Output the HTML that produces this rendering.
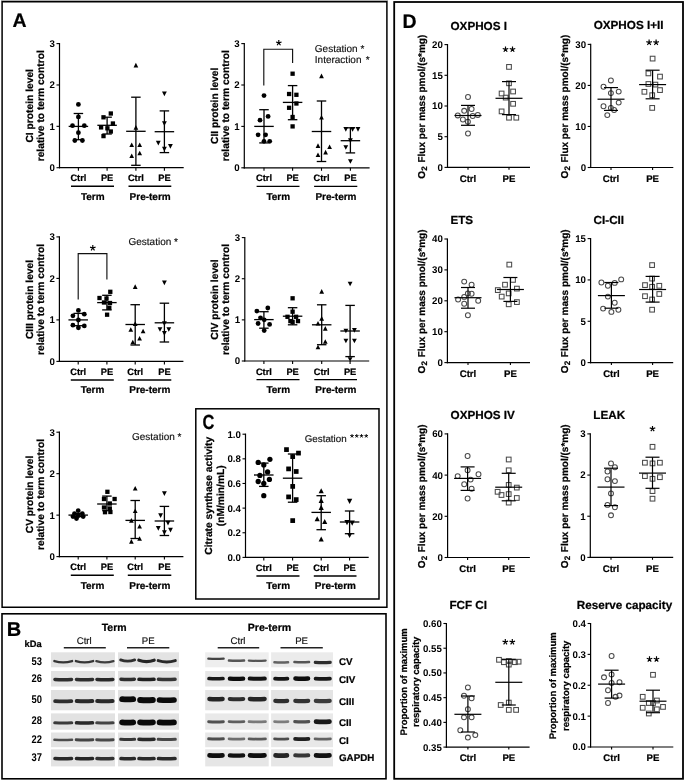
<!DOCTYPE html><html><head><meta charset="utf-8"><style>html,body{margin:0;padding:0;background:#fff;overflow:hidden;}svg{display:block;will-change:transform;text-rendering:geometricPrecision;}</style></head><body>
<svg width="685" height="781" viewBox="0 0 685 781">
<defs><filter id="bl" x="-20%" y="-100%" width="140%" height="300%" color-interpolation-filters="sRGB"><feGaussianBlur stdDeviation="0.75"/></filter><filter id="bl2" x="-20%" y="-100%" width="140%" height="300%"><feGaussianBlur stdDeviation="0.75"/></filter></defs>
<rect x="0" y="0" width="685" height="781" fill="#fff"/>
<rect x="1" y="0" width="387" height="0.9" fill="#a8a8a8"/>
<rect x="2.1" y="1.75" width="384.8" height="605.5" fill="none" stroke="#000" stroke-width="1.5"/>
<rect x="195.8" y="408.8" width="183.2" height="190.2" fill="none" stroke="#000" stroke-width="1.5"/>
<rect x="2" y="613.8" width="384" height="165" fill="none" stroke="#000" stroke-width="1.6"/>
<rect x="394.2" y="2" width="288.8" height="776.8" fill="none" stroke="#000" stroke-width="1.8"/>
<text x="12.4" y="26.9" font-size="19.5" font-family="Liberation Sans" font-weight="bold" stroke="#000" stroke-width="0.22" text-anchor="start" fill="#000" >A</text>
<text x="6.8" y="635.7" font-size="20" font-family="Liberation Sans" font-weight="bold" stroke="#000" stroke-width="0.22" text-anchor="start" fill="#000" >B</text>
<text transform="translate(202.6,429.1) scale(0.8,1)" font-size="20.5" font-family="Liberation Sans" font-weight="bold" stroke="#000" stroke-width="0.22">C</text>
<text x="402.4" y="27.9" font-size="19.5" font-family="Liberation Sans" font-weight="bold" stroke="#000" stroke-width="0.22" text-anchor="start" fill="#000" >D</text>
<line x1="59.5" y1="43" x2="59.5" y2="168.3" stroke="#000" stroke-width="1.2"/>
<line x1="58.9" y1="167.7" x2="183.7" y2="167.7" stroke="#000" stroke-width="1.2"/>
<line x1="56.5" y1="167.7" x2="59.5" y2="167.7" stroke="#000" stroke-width="1.1"/>
<text transform="translate(54.9,171.1) scale(1.0,1)" font-size="9.7" font-family="Liberation Sans" font-weight="bold" text-anchor="end">0</text>
<line x1="56.5" y1="126.33" x2="59.5" y2="126.33" stroke="#000" stroke-width="1.1"/>
<text transform="translate(54.9,129.73) scale(1.0,1)" font-size="9.7" font-family="Liberation Sans" font-weight="bold" text-anchor="end">1</text>
<line x1="56.5" y1="84.97" x2="59.5" y2="84.97" stroke="#000" stroke-width="1.1"/>
<text transform="translate(54.9,88.37) scale(1.0,1)" font-size="9.7" font-family="Liberation Sans" font-weight="bold" text-anchor="end">2</text>
<line x1="56.5" y1="43.6" x2="59.5" y2="43.6" stroke="#000" stroke-width="1.1"/>
<text transform="translate(54.9,47) scale(1.0,1)" font-size="9.7" font-family="Liberation Sans" font-weight="bold" text-anchor="end">3</text>
<line x1="78.4" y1="167.7" x2="78.4" y2="170.7" stroke="#000" stroke-width="1.1"/>
<line x1="107.1" y1="167.7" x2="107.1" y2="170.7" stroke="#000" stroke-width="1.1"/>
<line x1="135.9" y1="167.7" x2="135.9" y2="170.7" stroke="#000" stroke-width="1.1"/>
<line x1="164.4" y1="167.7" x2="164.4" y2="170.7" stroke="#000" stroke-width="1.1"/>
<circle cx="78.4" cy="104.4" r="2.4" fill="#000"/>
<circle cx="78.4" cy="116.9" r="2.4" fill="#000"/>
<circle cx="72.5" cy="125.7" r="2.4" fill="#000"/>
<circle cx="84.3" cy="125.7" r="2.4" fill="#000"/>
<circle cx="78.4" cy="132.7" r="2.4" fill="#000"/>
<circle cx="74.8" cy="140.5" r="2.4" fill="#000"/>
<circle cx="82.4" cy="140.5" r="2.4" fill="#000"/>
<line x1="78.4" y1="113.5" x2="78.4" y2="139.7" stroke="#000" stroke-width="1.3"/>
<line x1="68.65" y1="126.4" x2="88.15" y2="126.4" stroke="#000" stroke-width="1.3"/>
<line x1="73.65" y1="113.5" x2="83.15" y2="113.5" stroke="#000" stroke-width="1.3"/>
<line x1="73.65" y1="139.7" x2="83.15" y2="139.7" stroke="#000" stroke-width="1.3"/>
<rect x="108.65" y="111.35" width="4.3" height="4.3" fill="#000"/>
<rect x="101.35" y="115.15" width="4.3" height="4.3" fill="#000"/>
<rect x="110.75" y="121.35" width="4.3" height="4.3" fill="#000"/>
<rect x="98.95" y="125.25" width="4.3" height="4.3" fill="#000"/>
<rect x="105.25" y="126.15" width="4.3" height="4.3" fill="#000"/>
<rect x="108.65" y="129.35" width="4.3" height="4.3" fill="#000"/>
<rect x="101.35" y="133.95" width="4.3" height="4.3" fill="#000"/>
<line x1="107.1" y1="117.2" x2="107.1" y2="134" stroke="#000" stroke-width="1.3"/>
<line x1="97.35" y1="125.3" x2="116.85" y2="125.3" stroke="#000" stroke-width="1.3"/>
<line x1="102.35" y1="117.2" x2="111.85" y2="117.2" stroke="#000" stroke-width="1.3"/>
<line x1="102.35" y1="134" x2="111.85" y2="134" stroke="#000" stroke-width="1.3"/>
<path d="M135.9 62.8L138.25 67.4L133.55 67.4Z" fill="#000"/>
<path d="M135.9 125.1L138.25 129.7L133.55 129.7Z" fill="#000"/>
<path d="M131.7 142.5L134.05 147.1L129.35 147.1Z" fill="#000"/>
<path d="M139.7 142.5L142.05 147.1L137.35 147.1Z" fill="#000"/>
<path d="M131.7 153.5L134.05 158.1L129.35 158.1Z" fill="#000"/>
<path d="M139.7 150.7L142.05 155.3L137.35 155.3Z" fill="#000"/>
<line x1="135.9" y1="97.2" x2="135.9" y2="165.3" stroke="#000" stroke-width="1.3"/>
<line x1="126.15" y1="131.3" x2="145.65" y2="131.3" stroke="#000" stroke-width="1.3"/>
<line x1="131.15" y1="97.2" x2="140.65" y2="97.2" stroke="#000" stroke-width="1.3"/>
<line x1="131.15" y1="165.3" x2="140.65" y2="165.3" stroke="#000" stroke-width="1.3"/>
<path d="M162 91.45L166.8 91.45L164.4 96.15Z" fill="#000"/>
<path d="M162 121.25L166.8 121.25L164.4 125.95Z" fill="#000"/>
<path d="M155.9 140.75L160.7 140.75L158.3 145.45Z" fill="#000"/>
<path d="M168 143.95L172.8 143.95L170.4 148.65Z" fill="#000"/>
<path d="M162 146.85L166.8 146.85L164.4 151.55Z" fill="#000"/>
<line x1="164.4" y1="110.9" x2="164.4" y2="152.6" stroke="#000" stroke-width="1.3"/>
<line x1="154.65" y1="131.7" x2="174.15" y2="131.7" stroke="#000" stroke-width="1.3"/>
<line x1="159.65" y1="110.9" x2="169.15" y2="110.9" stroke="#000" stroke-width="1.3"/>
<line x1="159.65" y1="152.6" x2="169.15" y2="152.6" stroke="#000" stroke-width="1.3"/>
<text x="78.4" y="181.3" font-size="9.3" font-family="Liberation Sans" font-weight="bold" stroke="#000" stroke-width="0.22" text-anchor="middle" fill="#000" >Ctrl</text>
<text x="107.1" y="181.3" font-size="9.3" font-family="Liberation Sans" font-weight="bold" stroke="#000" stroke-width="0.22" text-anchor="middle" fill="#000" >PE</text>
<text x="135.9" y="181.3" font-size="9.3" font-family="Liberation Sans" font-weight="bold" stroke="#000" stroke-width="0.22" text-anchor="middle" fill="#000" >Ctrl</text>
<text x="164.4" y="181.3" font-size="9.3" font-family="Liberation Sans" font-weight="bold" stroke="#000" stroke-width="0.22" text-anchor="middle" fill="#000" >PE</text>
<line x1="71" y1="186.3" x2="114" y2="186.3" stroke="#000" stroke-width="1.4"/>
<line x1="128.5" y1="186.3" x2="171.3" y2="186.3" stroke="#000" stroke-width="1.4"/>
<text x="92.75" y="199.7" font-size="10" font-family="Liberation Sans" font-weight="bold" stroke="#000" stroke-width="0.22" text-anchor="middle" fill="#000" >Term</text>
<text x="150.15" y="199.7" font-size="10" font-family="Liberation Sans" font-weight="bold" stroke="#000" stroke-width="0.22" text-anchor="middle" fill="#000" >Pre-term</text>
<text transform="translate(32.9,105.8) rotate(-90)" font-size="10.25" font-family="Liberation Sans" font-weight="bold" stroke="#000" stroke-width="0.22" text-anchor="middle">CI protein level</text>
<text transform="translate(43.5,105.8) rotate(-90)" font-size="10.25" font-family="Liberation Sans" font-weight="bold" stroke="#000" stroke-width="0.22" text-anchor="middle">relative to term control</text>
<line x1="244.3" y1="43" x2="244.3" y2="168.4" stroke="#000" stroke-width="1.2"/>
<line x1="243.7" y1="167.8" x2="369.6" y2="167.8" stroke="#000" stroke-width="1.2"/>
<line x1="241.3" y1="167.8" x2="244.3" y2="167.8" stroke="#000" stroke-width="1.1"/>
<text transform="translate(239.7,171.2) scale(1.0,1)" font-size="9.7" font-family="Liberation Sans" font-weight="bold" text-anchor="end">0</text>
<line x1="241.3" y1="126.4" x2="244.3" y2="126.4" stroke="#000" stroke-width="1.1"/>
<text transform="translate(239.7,129.8) scale(1.0,1)" font-size="9.7" font-family="Liberation Sans" font-weight="bold" text-anchor="end">1</text>
<line x1="241.3" y1="85" x2="244.3" y2="85" stroke="#000" stroke-width="1.1"/>
<text transform="translate(239.7,88.4) scale(1.0,1)" font-size="9.7" font-family="Liberation Sans" font-weight="bold" text-anchor="end">2</text>
<line x1="241.3" y1="43.6" x2="244.3" y2="43.6" stroke="#000" stroke-width="1.1"/>
<text transform="translate(239.7,47) scale(1.0,1)" font-size="9.7" font-family="Liberation Sans" font-weight="bold" text-anchor="end">3</text>
<line x1="264" y1="167.8" x2="264" y2="170.8" stroke="#000" stroke-width="1.1"/>
<line x1="292.6" y1="167.8" x2="292.6" y2="170.8" stroke="#000" stroke-width="1.1"/>
<line x1="321.5" y1="167.8" x2="321.5" y2="170.8" stroke="#000" stroke-width="1.1"/>
<line x1="350.4" y1="167.8" x2="350.4" y2="170.8" stroke="#000" stroke-width="1.1"/>
<circle cx="264" cy="95.6" r="2.4" fill="#000"/>
<circle cx="268.1" cy="116.4" r="2.4" fill="#000"/>
<circle cx="260" cy="120.2" r="2.4" fill="#000"/>
<circle cx="258.1" cy="134.8" r="2.4" fill="#000"/>
<circle cx="265.6" cy="134.8" r="2.4" fill="#000"/>
<circle cx="264" cy="141.3" r="2.4" fill="#000"/>
<circle cx="269.7" cy="141.3" r="2.4" fill="#000"/>
<line x1="264" y1="109.7" x2="264" y2="142.9" stroke="#000" stroke-width="1.3"/>
<line x1="254.25" y1="126.4" x2="273.75" y2="126.4" stroke="#000" stroke-width="1.3"/>
<line x1="259.25" y1="109.7" x2="268.75" y2="109.7" stroke="#000" stroke-width="1.3"/>
<line x1="259.25" y1="142.9" x2="268.75" y2="142.9" stroke="#000" stroke-width="1.3"/>
<rect x="290.45" y="71.55" width="4.3" height="4.3" fill="#000"/>
<rect x="286.95" y="91.85" width="4.3" height="4.3" fill="#000"/>
<rect x="294.25" y="92.65" width="4.3" height="4.3" fill="#000"/>
<rect x="286.95" y="105.65" width="4.3" height="4.3" fill="#000"/>
<rect x="294.25" y="101.35" width="4.3" height="4.3" fill="#000"/>
<rect x="290.45" y="114.85" width="4.3" height="4.3" fill="#000"/>
<rect x="290.45" y="124.25" width="4.3" height="4.3" fill="#000"/>
<line x1="292.6" y1="85.6" x2="292.6" y2="119.7" stroke="#000" stroke-width="1.3"/>
<line x1="282.85" y1="102.4" x2="302.35" y2="102.4" stroke="#000" stroke-width="1.3"/>
<line x1="287.85" y1="85.6" x2="297.35" y2="85.6" stroke="#000" stroke-width="1.3"/>
<line x1="287.85" y1="119.7" x2="297.35" y2="119.7" stroke="#000" stroke-width="1.3"/>
<path d="M321.5 73.6L323.85 78.2L319.15 78.2Z" fill="#000"/>
<path d="M321.5 114.9L323.85 119.5L319.15 119.5Z" fill="#000"/>
<path d="M318 143.3L320.35 147.9L315.65 147.9Z" fill="#000"/>
<path d="M325.6 149.8L327.95 154.4L323.25 154.4Z" fill="#000"/>
<path d="M329.6 144.4L331.95 149L327.25 149Z" fill="#000"/>
<path d="M318 152.5L320.35 157.1L315.65 157.1Z" fill="#000"/>
<line x1="321.5" y1="101" x2="321.5" y2="161.5" stroke="#000" stroke-width="1.3"/>
<line x1="311.75" y1="131.5" x2="331.25" y2="131.5" stroke="#000" stroke-width="1.3"/>
<line x1="316.75" y1="101" x2="326.25" y2="101" stroke="#000" stroke-width="1.3"/>
<line x1="316.75" y1="161.5" x2="326.25" y2="161.5" stroke="#000" stroke-width="1.3"/>
<path d="M343.4 127.05L348.2 127.05L345.8 131.75Z" fill="#000"/>
<path d="M350.2 127.05L355 127.05L352.6 131.75Z" fill="#000"/>
<path d="M355.6 127.05L360.4 127.05L358 131.75Z" fill="#000"/>
<path d="M348 138.35L352.8 138.35L350.4 143.05Z" fill="#000"/>
<path d="M343.4 145.15L348.2 145.15L345.8 149.85Z" fill="#000"/>
<path d="M348 159.15L352.8 159.15L350.4 163.85Z" fill="#000"/>
<line x1="350.4" y1="127.8" x2="350.4" y2="152.9" stroke="#000" stroke-width="1.3"/>
<line x1="340.65" y1="140.7" x2="360.15" y2="140.7" stroke="#000" stroke-width="1.3"/>
<line x1="345.65" y1="127.8" x2="355.15" y2="127.8" stroke="#000" stroke-width="1.3"/>
<line x1="345.65" y1="152.9" x2="355.15" y2="152.9" stroke="#000" stroke-width="1.3"/>
<text x="264" y="181.4" font-size="9.3" font-family="Liberation Sans" font-weight="bold" stroke="#000" stroke-width="0.22" text-anchor="middle" fill="#000" >Ctrl</text>
<text x="292.6" y="181.4" font-size="9.3" font-family="Liberation Sans" font-weight="bold" stroke="#000" stroke-width="0.22" text-anchor="middle" fill="#000" >PE</text>
<text x="321.5" y="181.4" font-size="9.3" font-family="Liberation Sans" font-weight="bold" stroke="#000" stroke-width="0.22" text-anchor="middle" fill="#000" >Ctrl</text>
<text x="350.4" y="181.4" font-size="9.3" font-family="Liberation Sans" font-weight="bold" stroke="#000" stroke-width="0.22" text-anchor="middle" fill="#000" >PE</text>
<line x1="256.6" y1="186.4" x2="299.5" y2="186.4" stroke="#000" stroke-width="1.4"/>
<line x1="314.1" y1="186.4" x2="357.3" y2="186.4" stroke="#000" stroke-width="1.4"/>
<text x="278.3" y="199.8" font-size="10" font-family="Liberation Sans" font-weight="bold" stroke="#000" stroke-width="0.22" text-anchor="middle" fill="#000" >Term</text>
<text x="335.95" y="199.8" font-size="10" font-family="Liberation Sans" font-weight="bold" stroke="#000" stroke-width="0.22" text-anchor="middle" fill="#000" >Pre-term</text>
<text transform="translate(217.9,105.8) rotate(-90)" font-size="10.25" font-family="Liberation Sans" font-weight="bold" stroke="#000" stroke-width="0.22" text-anchor="middle">CII protein level</text>
<text transform="translate(228.5,105.8) rotate(-90)" font-size="10.25" font-family="Liberation Sans" font-weight="bold" stroke="#000" stroke-width="0.22" text-anchor="middle">relative to term control</text>
<path d="M263.8 85.4V49.2H292.6V62.9" fill="none" stroke="#111" stroke-width="1.15"/>
<path d="M278.8 42.9L278.8 40M278.8 42.9L281.56 42M278.8 42.9L280.5 45.25M278.8 42.9L277.1 45.25M278.8 42.9L276.04 42" stroke="#000" stroke-width="1.15" fill="none"/>
<text x="314.8" y="51.6" font-size="10" font-family="Liberation Sans" text-anchor="start" fill="#111" stroke="#111" stroke-width="0.15">Gestation *</text>
<text x="314.8" y="63.4" font-size="10" font-family="Liberation Sans" text-anchor="start" fill="#111" word-spacing="1.5" stroke="#111" stroke-width="0.15">Interaction *</text>
<line x1="59.4" y1="236.3" x2="59.4" y2="362" stroke="#000" stroke-width="1.2"/>
<line x1="58.8" y1="361.4" x2="183.4" y2="361.4" stroke="#000" stroke-width="1.2"/>
<line x1="56.4" y1="361.4" x2="59.4" y2="361.4" stroke="#000" stroke-width="1.1"/>
<text transform="translate(54.8,364.8) scale(1.0,1)" font-size="9.7" font-family="Liberation Sans" font-weight="bold" text-anchor="end">0</text>
<line x1="56.4" y1="319.9" x2="59.4" y2="319.9" stroke="#000" stroke-width="1.1"/>
<text transform="translate(54.8,323.3) scale(1.0,1)" font-size="9.7" font-family="Liberation Sans" font-weight="bold" text-anchor="end">1</text>
<line x1="56.4" y1="278.4" x2="59.4" y2="278.4" stroke="#000" stroke-width="1.1"/>
<text transform="translate(54.8,281.8) scale(1.0,1)" font-size="9.7" font-family="Liberation Sans" font-weight="bold" text-anchor="end">2</text>
<line x1="56.4" y1="236.9" x2="59.4" y2="236.9" stroke="#000" stroke-width="1.1"/>
<text transform="translate(54.8,240.3) scale(1.0,1)" font-size="9.7" font-family="Liberation Sans" font-weight="bold" text-anchor="end">3</text>
<line x1="78.2" y1="361.4" x2="78.2" y2="364.4" stroke="#000" stroke-width="1.1"/>
<line x1="106.9" y1="361.4" x2="106.9" y2="364.4" stroke="#000" stroke-width="1.1"/>
<line x1="135.2" y1="361.4" x2="135.2" y2="364.4" stroke="#000" stroke-width="1.1"/>
<line x1="164.4" y1="361.4" x2="164.4" y2="364.4" stroke="#000" stroke-width="1.1"/>
<circle cx="78.4" cy="310.4" r="2.4" fill="#000"/>
<circle cx="72.9" cy="315.8" r="2.4" fill="#000"/>
<circle cx="84.3" cy="314.2" r="2.4" fill="#000"/>
<circle cx="78.4" cy="320" r="2.4" fill="#000"/>
<circle cx="72.9" cy="325.2" r="2.4" fill="#000"/>
<circle cx="84.3" cy="325.9" r="2.4" fill="#000"/>
<circle cx="78.4" cy="327.8" r="2.4" fill="#000"/>
<line x1="78.2" y1="313.4" x2="78.2" y2="325.7" stroke="#000" stroke-width="1.3"/>
<line x1="68.45" y1="319.9" x2="87.95" y2="319.9" stroke="#000" stroke-width="1.3"/>
<line x1="73.45" y1="313.4" x2="82.95" y2="313.4" stroke="#000" stroke-width="1.3"/>
<line x1="73.45" y1="325.7" x2="82.95" y2="325.7" stroke="#000" stroke-width="1.3"/>
<rect x="108.15" y="289.65" width="4.3" height="4.3" fill="#000"/>
<rect x="97.35" y="295.85" width="4.3" height="4.3" fill="#000"/>
<rect x="104.35" y="296.35" width="4.3" height="4.3" fill="#000"/>
<rect x="101.85" y="300.35" width="4.3" height="4.3" fill="#000"/>
<rect x="107.85" y="300.85" width="4.3" height="4.3" fill="#000"/>
<rect x="107.15" y="305.65" width="4.3" height="4.3" fill="#000"/>
<rect x="104.95" y="312.55" width="4.3" height="4.3" fill="#000"/>
<line x1="106.9" y1="295.3" x2="106.9" y2="309.9" stroke="#000" stroke-width="1.3"/>
<line x1="97.15" y1="302.6" x2="116.65" y2="302.6" stroke="#000" stroke-width="1.3"/>
<line x1="102.15" y1="295.3" x2="111.65" y2="295.3" stroke="#000" stroke-width="1.3"/>
<line x1="102.15" y1="309.9" x2="111.65" y2="309.9" stroke="#000" stroke-width="1.3"/>
<path d="M135.2 284.3L137.55 288.9L132.85 288.9Z" fill="#000"/>
<path d="M135.2 321.3L137.55 325.9L132.85 325.9Z" fill="#000"/>
<path d="M130.8 327.2L133.15 331.8L128.45 331.8Z" fill="#000"/>
<path d="M143.1 328.7L145.45 333.3L140.75 333.3Z" fill="#000"/>
<path d="M139.6 335.9L141.95 340.5L137.25 340.5Z" fill="#000"/>
<path d="M132.8 339.7L135.15 344.3L130.45 344.3Z" fill="#000"/>
<line x1="135.2" y1="304.7" x2="135.2" y2="345" stroke="#000" stroke-width="1.3"/>
<line x1="125.45" y1="324.5" x2="144.95" y2="324.5" stroke="#000" stroke-width="1.3"/>
<line x1="130.45" y1="304.7" x2="139.95" y2="304.7" stroke="#000" stroke-width="1.3"/>
<line x1="130.45" y1="345" x2="139.95" y2="345" stroke="#000" stroke-width="1.3"/>
<path d="M162 280.45L166.8 280.45L164.4 285.15Z" fill="#000"/>
<path d="M162 321.25L166.8 321.25L164.4 325.95Z" fill="#000"/>
<path d="M157.6 327.15L162.4 327.15L160 331.85Z" fill="#000"/>
<path d="M166.4 327.15L171.2 327.15L168.8 331.85Z" fill="#000"/>
<path d="M162 330.95L166.8 330.95L164.4 335.65Z" fill="#000"/>
<line x1="164.4" y1="303.2" x2="164.4" y2="342" stroke="#000" stroke-width="1.3"/>
<line x1="154.65" y1="322.8" x2="174.15" y2="322.8" stroke="#000" stroke-width="1.3"/>
<line x1="159.65" y1="303.2" x2="169.15" y2="303.2" stroke="#000" stroke-width="1.3"/>
<line x1="159.65" y1="342" x2="169.15" y2="342" stroke="#000" stroke-width="1.3"/>
<text x="78.2" y="375" font-size="9.3" font-family="Liberation Sans" font-weight="bold" stroke="#000" stroke-width="0.22" text-anchor="middle" fill="#000" >Ctrl</text>
<text x="106.9" y="375" font-size="9.3" font-family="Liberation Sans" font-weight="bold" stroke="#000" stroke-width="0.22" text-anchor="middle" fill="#000" >PE</text>
<text x="135.2" y="375" font-size="9.3" font-family="Liberation Sans" font-weight="bold" stroke="#000" stroke-width="0.22" text-anchor="middle" fill="#000" >Ctrl</text>
<text x="164.4" y="375" font-size="9.3" font-family="Liberation Sans" font-weight="bold" stroke="#000" stroke-width="0.22" text-anchor="middle" fill="#000" >PE</text>
<line x1="70.8" y1="380" x2="113.8" y2="380" stroke="#000" stroke-width="1.4"/>
<line x1="127.8" y1="380" x2="171.3" y2="380" stroke="#000" stroke-width="1.4"/>
<text x="92.55" y="393.4" font-size="10" font-family="Liberation Sans" font-weight="bold" stroke="#000" stroke-width="0.22" text-anchor="middle" fill="#000" >Term</text>
<text x="149.8" y="393.4" font-size="10" font-family="Liberation Sans" font-weight="bold" stroke="#000" stroke-width="0.22" text-anchor="middle" fill="#000" >Pre-term</text>
<text transform="translate(32.9,299.5) rotate(-90)" font-size="10.25" font-family="Liberation Sans" font-weight="bold" stroke="#000" stroke-width="0.22" text-anchor="middle">CIII protein level</text>
<text transform="translate(43.5,299.5) rotate(-90)" font-size="10.25" font-family="Liberation Sans" font-weight="bold" stroke="#000" stroke-width="0.22" text-anchor="middle">relative to term control</text>
<path d="M78.2 299.4V253.6H106.9V279.5" fill="none" stroke="#111" stroke-width="1.15"/>
<path d="M92.8 248L92.8 245.1M92.8 248L95.56 247.1M92.8 248L94.5 250.35M92.8 248L91.1 250.35M92.8 248L90.04 247.1" stroke="#000" stroke-width="1.15" fill="none"/>
<text x="128.5" y="244.8" font-size="10" font-family="Liberation Sans" text-anchor="start" fill="#111" stroke="#111" stroke-width="0.15">Gestation *</text>
<line x1="244.8" y1="237" x2="244.8" y2="361.6" stroke="#000" stroke-width="1.2"/>
<line x1="244.2" y1="361" x2="369.2" y2="361" stroke="#000" stroke-width="1.2"/>
<line x1="241.8" y1="361" x2="244.8" y2="361" stroke="#000" stroke-width="1.1"/>
<text transform="translate(240.2,364.4) scale(1.0,1)" font-size="9.7" font-family="Liberation Sans" font-weight="bold" text-anchor="end">0</text>
<line x1="241.8" y1="319.87" x2="244.8" y2="319.87" stroke="#000" stroke-width="1.1"/>
<text transform="translate(240.2,323.27) scale(1.0,1)" font-size="9.7" font-family="Liberation Sans" font-weight="bold" text-anchor="end">1</text>
<line x1="241.8" y1="278.73" x2="244.8" y2="278.73" stroke="#000" stroke-width="1.1"/>
<text transform="translate(240.2,282.13) scale(1.0,1)" font-size="9.7" font-family="Liberation Sans" font-weight="bold" text-anchor="end">2</text>
<line x1="241.8" y1="237.6" x2="244.8" y2="237.6" stroke="#000" stroke-width="1.1"/>
<text transform="translate(240.2,241) scale(1.0,1)" font-size="9.7" font-family="Liberation Sans" font-weight="bold" text-anchor="end">3</text>
<line x1="263.9" y1="361" x2="263.9" y2="364" stroke="#000" stroke-width="1.1"/>
<line x1="292.6" y1="361" x2="292.6" y2="364" stroke="#000" stroke-width="1.1"/>
<line x1="321.7" y1="361" x2="321.7" y2="364" stroke="#000" stroke-width="1.1"/>
<line x1="350.1" y1="361" x2="350.1" y2="364" stroke="#000" stroke-width="1.1"/>
<circle cx="256.9" cy="311.1" r="2.4" fill="#000"/>
<circle cx="267.8" cy="308" r="2.4" fill="#000"/>
<circle cx="260.5" cy="317.8" r="2.4" fill="#000"/>
<circle cx="264.2" cy="319.8" r="2.4" fill="#000"/>
<circle cx="258.1" cy="323.5" r="2.4" fill="#000"/>
<circle cx="269.6" cy="324.4" r="2.4" fill="#000"/>
<circle cx="264.2" cy="330.6" r="2.4" fill="#000"/>
<line x1="263.9" y1="311.7" x2="263.9" y2="328.2" stroke="#000" stroke-width="1.3"/>
<line x1="254.15" y1="319.6" x2="273.65" y2="319.6" stroke="#000" stroke-width="1.3"/>
<line x1="259.15" y1="311.7" x2="268.65" y2="311.7" stroke="#000" stroke-width="1.3"/>
<line x1="259.15" y1="328.2" x2="268.65" y2="328.2" stroke="#000" stroke-width="1.3"/>
<rect x="290.45" y="296.15" width="4.3" height="4.3" fill="#000"/>
<rect x="290.45" y="309.55" width="4.3" height="4.3" fill="#000"/>
<rect x="285.35" y="314.65" width="4.3" height="4.3" fill="#000"/>
<rect x="293.95" y="314.65" width="4.3" height="4.3" fill="#000"/>
<rect x="288.25" y="318.95" width="4.3" height="4.3" fill="#000"/>
<rect x="295.85" y="318.95" width="4.3" height="4.3" fill="#000"/>
<rect x="290.45" y="319.75" width="4.3" height="4.3" fill="#000"/>
<line x1="292.6" y1="307.7" x2="292.6" y2="324.8" stroke="#000" stroke-width="1.3"/>
<line x1="282.85" y1="316.2" x2="302.35" y2="316.2" stroke="#000" stroke-width="1.3"/>
<line x1="287.85" y1="307.7" x2="297.35" y2="307.7" stroke="#000" stroke-width="1.3"/>
<line x1="287.85" y1="324.8" x2="297.35" y2="324.8" stroke="#000" stroke-width="1.3"/>
<path d="M321.7 289.1L324.05 293.7L319.35 293.7Z" fill="#000"/>
<path d="M321.7 316.1L324.05 320.7L319.35 320.7Z" fill="#000"/>
<path d="M318 321L320.35 325.6L315.65 325.6Z" fill="#000"/>
<path d="M325.3 326.1L327.65 330.7L322.95 330.7Z" fill="#000"/>
<path d="M325.3 339.2L327.65 343.8L322.95 343.8Z" fill="#000"/>
<path d="M318 344.7L320.35 349.3L315.65 349.3Z" fill="#000"/>
<line x1="321.7" y1="304.8" x2="321.7" y2="344.7" stroke="#000" stroke-width="1.3"/>
<line x1="311.95" y1="324.8" x2="331.45" y2="324.8" stroke="#000" stroke-width="1.3"/>
<line x1="316.95" y1="304.8" x2="326.45" y2="304.8" stroke="#000" stroke-width="1.3"/>
<line x1="316.95" y1="344.7" x2="326.45" y2="344.7" stroke="#000" stroke-width="1.3"/>
<path d="M347.7 281.65L352.5 281.65L350.1 286.35Z" fill="#000"/>
<path d="M343.5 328.65L348.3 328.65L345.9 333.35Z" fill="#000"/>
<path d="M352 328.05L356.8 328.05L354.4 332.75Z" fill="#000"/>
<path d="M343.5 338.65L348.3 338.65L345.9 343.35Z" fill="#000"/>
<path d="M352 338.65L356.8 338.65L354.4 343.35Z" fill="#000"/>
<path d="M347.7 357.15L352.5 357.15L350.1 361.85Z" fill="#000"/>
<line x1="350.1" y1="305.4" x2="350.1" y2="356.6" stroke="#000" stroke-width="1.3"/>
<line x1="340.35" y1="331" x2="359.85" y2="331" stroke="#000" stroke-width="1.3"/>
<line x1="345.35" y1="305.4" x2="354.85" y2="305.4" stroke="#000" stroke-width="1.3"/>
<line x1="345.35" y1="356.6" x2="354.85" y2="356.6" stroke="#000" stroke-width="1.3"/>
<text x="263.9" y="374.6" font-size="9.3" font-family="Liberation Sans" font-weight="bold" stroke="#000" stroke-width="0.22" text-anchor="middle" fill="#000" >Ctrl</text>
<text x="292.6" y="374.6" font-size="9.3" font-family="Liberation Sans" font-weight="bold" stroke="#000" stroke-width="0.22" text-anchor="middle" fill="#000" >PE</text>
<text x="321.7" y="374.6" font-size="9.3" font-family="Liberation Sans" font-weight="bold" stroke="#000" stroke-width="0.22" text-anchor="middle" fill="#000" >Ctrl</text>
<text x="350.1" y="374.6" font-size="9.3" font-family="Liberation Sans" font-weight="bold" stroke="#000" stroke-width="0.22" text-anchor="middle" fill="#000" >PE</text>
<line x1="256.5" y1="379.6" x2="299.5" y2="379.6" stroke="#000" stroke-width="1.4"/>
<line x1="314.3" y1="379.6" x2="357" y2="379.6" stroke="#000" stroke-width="1.4"/>
<text x="278.25" y="393" font-size="10" font-family="Liberation Sans" font-weight="bold" stroke="#000" stroke-width="0.22" text-anchor="middle" fill="#000" >Term</text>
<text x="335.9" y="393" font-size="10" font-family="Liberation Sans" font-weight="bold" stroke="#000" stroke-width="0.22" text-anchor="middle" fill="#000" >Pre-term</text>
<text transform="translate(218.4,299.5) rotate(-90)" font-size="10.25" font-family="Liberation Sans" font-weight="bold" stroke="#000" stroke-width="0.22" text-anchor="middle">CIV protein level</text>
<text transform="translate(229,299.5) rotate(-90)" font-size="10.25" font-family="Liberation Sans" font-weight="bold" stroke="#000" stroke-width="0.22" text-anchor="middle">relative to term control</text>
<line x1="59.4" y1="431.6" x2="59.4" y2="557.2" stroke="#000" stroke-width="1.2"/>
<line x1="58.8" y1="556.6" x2="183.4" y2="556.6" stroke="#000" stroke-width="1.2"/>
<line x1="56.4" y1="556.6" x2="59.4" y2="556.6" stroke="#000" stroke-width="1.1"/>
<text transform="translate(54.8,560) scale(1.0,1)" font-size="9.7" font-family="Liberation Sans" font-weight="bold" text-anchor="end">0</text>
<line x1="56.4" y1="515.13" x2="59.4" y2="515.13" stroke="#000" stroke-width="1.1"/>
<text transform="translate(54.8,518.53) scale(1.0,1)" font-size="9.7" font-family="Liberation Sans" font-weight="bold" text-anchor="end">1</text>
<line x1="56.4" y1="473.67" x2="59.4" y2="473.67" stroke="#000" stroke-width="1.1"/>
<text transform="translate(54.8,477.07) scale(1.0,1)" font-size="9.7" font-family="Liberation Sans" font-weight="bold" text-anchor="end">2</text>
<line x1="56.4" y1="432.2" x2="59.4" y2="432.2" stroke="#000" stroke-width="1.1"/>
<text transform="translate(54.8,435.6) scale(1.0,1)" font-size="9.7" font-family="Liberation Sans" font-weight="bold" text-anchor="end">3</text>
<line x1="78.2" y1="556.6" x2="78.2" y2="559.6" stroke="#000" stroke-width="1.1"/>
<line x1="106.9" y1="556.6" x2="106.9" y2="559.6" stroke="#000" stroke-width="1.1"/>
<line x1="135.2" y1="556.6" x2="135.2" y2="559.6" stroke="#000" stroke-width="1.1"/>
<line x1="164.4" y1="556.6" x2="164.4" y2="559.6" stroke="#000" stroke-width="1.1"/>
<circle cx="78.2" cy="510.7" r="2.4" fill="#000"/>
<circle cx="74.5" cy="513.6" r="2.4" fill="#000"/>
<circle cx="82.3" cy="513.6" r="2.4" fill="#000"/>
<circle cx="73" cy="516.6" r="2.4" fill="#000"/>
<circle cx="78.2" cy="515.7" r="2.4" fill="#000"/>
<circle cx="83.2" cy="516.6" r="2.4" fill="#000"/>
<circle cx="76.5" cy="518.6" r="2.4" fill="#000"/>
<line x1="78.2" y1="513.6" x2="78.2" y2="516.6" stroke="#000" stroke-width="1.3"/>
<line x1="68.45" y1="515.1" x2="87.95" y2="515.1" stroke="#000" stroke-width="1.3"/>
<line x1="73.45" y1="513.6" x2="82.95" y2="513.6" stroke="#000" stroke-width="1.3"/>
<line x1="73.45" y1="516.6" x2="82.95" y2="516.6" stroke="#000" stroke-width="1.3"/>
<rect x="105.25" y="489.65" width="4.3" height="4.3" fill="#000"/>
<rect x="101.85" y="496.85" width="4.3" height="4.3" fill="#000"/>
<rect x="112.45" y="496.85" width="4.3" height="4.3" fill="#000"/>
<rect x="107.65" y="501.35" width="4.3" height="4.3" fill="#000"/>
<rect x="101.85" y="505.35" width="4.3" height="4.3" fill="#000"/>
<rect x="107.65" y="506.35" width="4.3" height="4.3" fill="#000"/>
<rect x="102.85" y="510.05" width="4.3" height="4.3" fill="#000"/>
<rect x="108.25" y="509.85" width="4.3" height="4.3" fill="#000"/>
<line x1="106.9" y1="496.1" x2="106.9" y2="510.7" stroke="#000" stroke-width="1.3"/>
<line x1="97.15" y1="504" x2="116.65" y2="504" stroke="#000" stroke-width="1.3"/>
<line x1="102.15" y1="496.1" x2="111.65" y2="496.1" stroke="#000" stroke-width="1.3"/>
<line x1="102.15" y1="510.7" x2="111.65" y2="510.7" stroke="#000" stroke-width="1.3"/>
<path d="M135.2 485.9L137.55 490.5L132.85 490.5Z" fill="#000"/>
<path d="M135.2 508.4L137.55 513L132.85 513Z" fill="#000"/>
<path d="M131.4 518.1L133.75 522.7L129.05 522.7Z" fill="#000"/>
<path d="M139.6 523.9L141.95 528.5L137.25 528.5Z" fill="#000"/>
<path d="M139.6 536.2L141.95 540.8L137.25 540.8Z" fill="#000"/>
<path d="M131.4 539.1L133.75 543.7L129.05 543.7Z" fill="#000"/>
<line x1="135.2" y1="500.5" x2="135.2" y2="538.5" stroke="#000" stroke-width="1.3"/>
<line x1="125.45" y1="520.4" x2="144.95" y2="520.4" stroke="#000" stroke-width="1.3"/>
<line x1="130.45" y1="500.5" x2="139.95" y2="500.5" stroke="#000" stroke-width="1.3"/>
<line x1="130.45" y1="538.5" x2="139.95" y2="538.5" stroke="#000" stroke-width="1.3"/>
<path d="M162 491.35L166.8 491.35L164.4 496.05Z" fill="#000"/>
<path d="M158.2 513.25L163 513.25L160.6 517.95Z" fill="#000"/>
<path d="M165.6 520.85L170.4 520.85L168 525.55Z" fill="#000"/>
<path d="M155.9 525.95L160.7 525.95L158.3 530.65Z" fill="#000"/>
<path d="M168.1 527.85L172.9 527.85L170.5 532.55Z" fill="#000"/>
<path d="M162 530.35L166.8 530.35L164.4 535.05Z" fill="#000"/>
<line x1="164.4" y1="506.4" x2="164.4" y2="535.5" stroke="#000" stroke-width="1.3"/>
<line x1="154.65" y1="521" x2="174.15" y2="521" stroke="#000" stroke-width="1.3"/>
<line x1="159.65" y1="506.4" x2="169.15" y2="506.4" stroke="#000" stroke-width="1.3"/>
<line x1="159.65" y1="535.5" x2="169.15" y2="535.5" stroke="#000" stroke-width="1.3"/>
<text x="78.2" y="570.2" font-size="9.3" font-family="Liberation Sans" font-weight="bold" stroke="#000" stroke-width="0.22" text-anchor="middle" fill="#000" >Ctrl</text>
<text x="106.9" y="570.2" font-size="9.3" font-family="Liberation Sans" font-weight="bold" stroke="#000" stroke-width="0.22" text-anchor="middle" fill="#000" >PE</text>
<text x="135.2" y="570.2" font-size="9.3" font-family="Liberation Sans" font-weight="bold" stroke="#000" stroke-width="0.22" text-anchor="middle" fill="#000" >Ctrl</text>
<text x="164.4" y="570.2" font-size="9.3" font-family="Liberation Sans" font-weight="bold" stroke="#000" stroke-width="0.22" text-anchor="middle" fill="#000" >PE</text>
<line x1="70.8" y1="575.2" x2="113.8" y2="575.2" stroke="#000" stroke-width="1.4"/>
<line x1="127.8" y1="575.2" x2="171.3" y2="575.2" stroke="#000" stroke-width="1.4"/>
<text x="92.55" y="588.6" font-size="10" font-family="Liberation Sans" font-weight="bold" stroke="#000" stroke-width="0.22" text-anchor="middle" fill="#000" >Term</text>
<text x="149.8" y="588.6" font-size="10" font-family="Liberation Sans" font-weight="bold" stroke="#000" stroke-width="0.22" text-anchor="middle" fill="#000" >Pre-term</text>
<text transform="translate(32.9,494.5) rotate(-90)" font-size="10.25" font-family="Liberation Sans" font-weight="bold" stroke="#000" stroke-width="0.22" text-anchor="middle">CV protein level</text>
<text transform="translate(43.5,494.5) rotate(-90)" font-size="10.25" font-family="Liberation Sans" font-weight="bold" stroke="#000" stroke-width="0.22" text-anchor="middle">relative to term control</text>
<text x="132" y="440" font-size="10" font-family="Liberation Sans" text-anchor="start" fill="#111" stroke="#111" stroke-width="0.15">Gestation *</text>
<line x1="245.5" y1="433.6" x2="245.5" y2="558" stroke="#000" stroke-width="1.2"/>
<line x1="244.9" y1="557.4" x2="368.7" y2="557.4" stroke="#000" stroke-width="1.2"/>
<line x1="242.5" y1="557.4" x2="245.5" y2="557.4" stroke="#000" stroke-width="1.1"/>
<text transform="translate(240.9,560.8) scale(1.0,1)" font-size="9.7" font-family="Liberation Sans" font-weight="bold" text-anchor="end">0.0</text>
<line x1="242.5" y1="532.76" x2="245.5" y2="532.76" stroke="#000" stroke-width="1.1"/>
<text transform="translate(240.9,536.16) scale(1.0,1)" font-size="9.7" font-family="Liberation Sans" font-weight="bold" text-anchor="end">0.2</text>
<line x1="242.5" y1="508.12" x2="245.5" y2="508.12" stroke="#000" stroke-width="1.1"/>
<text transform="translate(240.9,511.52) scale(1.0,1)" font-size="9.7" font-family="Liberation Sans" font-weight="bold" text-anchor="end">0.4</text>
<line x1="242.5" y1="483.48" x2="245.5" y2="483.48" stroke="#000" stroke-width="1.1"/>
<text transform="translate(240.9,486.88) scale(1.0,1)" font-size="9.7" font-family="Liberation Sans" font-weight="bold" text-anchor="end">0.6</text>
<line x1="242.5" y1="458.84" x2="245.5" y2="458.84" stroke="#000" stroke-width="1.1"/>
<text transform="translate(240.9,462.24) scale(1.0,1)" font-size="9.7" font-family="Liberation Sans" font-weight="bold" text-anchor="end">0.8</text>
<line x1="242.5" y1="434.2" x2="245.5" y2="434.2" stroke="#000" stroke-width="1.1"/>
<text transform="translate(240.9,437.6) scale(1.0,1)" font-size="9.7" font-family="Liberation Sans" font-weight="bold" text-anchor="end">1.0</text>
<line x1="263.8" y1="557.4" x2="263.8" y2="560.4" stroke="#000" stroke-width="1.1"/>
<line x1="292.6" y1="557.4" x2="292.6" y2="560.4" stroke="#000" stroke-width="1.1"/>
<line x1="321.2" y1="557.4" x2="321.2" y2="560.4" stroke="#000" stroke-width="1.1"/>
<line x1="349.6" y1="557.4" x2="349.6" y2="560.4" stroke="#000" stroke-width="1.1"/>
<circle cx="258.2" cy="462.4" r="2.64" fill="#000"/>
<circle cx="269.9" cy="459.3" r="2.64" fill="#000"/>
<circle cx="263.8" cy="464.9" r="2.64" fill="#000"/>
<circle cx="267.6" cy="471.9" r="2.64" fill="#000"/>
<circle cx="259.9" cy="475.4" r="2.64" fill="#000"/>
<circle cx="258.2" cy="481.5" r="2.64" fill="#000"/>
<circle cx="269.4" cy="479.4" r="2.64" fill="#000"/>
<circle cx="263.8" cy="483.4" r="2.64" fill="#000"/>
<circle cx="263.8" cy="495.7" r="2.64" fill="#000"/>
<line x1="263.8" y1="463.1" x2="263.8" y2="486.4" stroke="#000" stroke-width="1.3"/>
<line x1="254.05" y1="475" x2="273.55" y2="475" stroke="#000" stroke-width="1.3"/>
<line x1="259.05" y1="463.1" x2="268.55" y2="463.1" stroke="#000" stroke-width="1.3"/>
<line x1="259.05" y1="486.4" x2="268.55" y2="486.4" stroke="#000" stroke-width="1.3"/>
<rect x="284.13" y="447.24" width="4.73" height="4.73" fill="#000"/>
<rect x="296.13" y="450.74" width="4.73" height="4.73" fill="#000"/>
<rect x="290.33" y="454.24" width="4.73" height="4.73" fill="#000"/>
<rect x="286.24" y="466.53" width="4.73" height="4.73" fill="#000"/>
<rect x="293.83" y="469.13" width="4.73" height="4.73" fill="#000"/>
<rect x="290.33" y="484.03" width="4.73" height="4.73" fill="#000"/>
<rect x="286.24" y="494.53" width="4.73" height="4.73" fill="#000"/>
<rect x="293.83" y="497.24" width="4.73" height="4.73" fill="#000"/>
<rect x="290.33" y="518.24" width="4.73" height="4.73" fill="#000"/>
<line x1="292.6" y1="454" x2="292.6" y2="502.2" stroke="#000" stroke-width="1.3"/>
<line x1="282.85" y1="478.2" x2="302.35" y2="478.2" stroke="#000" stroke-width="1.3"/>
<line x1="287.85" y1="454" x2="297.35" y2="454" stroke="#000" stroke-width="1.3"/>
<line x1="287.85" y1="502.2" x2="297.35" y2="502.2" stroke="#000" stroke-width="1.3"/>
<path d="M321.2 488.27L323.78 493.33L318.62 493.33Z" fill="#000"/>
<path d="M321.2 497.87L323.78 502.93L318.62 502.93Z" fill="#000"/>
<path d="M321.2 504.87L323.78 509.93L318.62 509.93Z" fill="#000"/>
<path d="M317.2 516.27L319.78 521.33L314.62 521.33Z" fill="#000"/>
<path d="M324.7 518.97L327.28 524.03L322.12 524.03Z" fill="#000"/>
<path d="M321.2 536.47L323.78 541.53L318.62 541.53Z" fill="#000"/>
<line x1="321.2" y1="495.7" x2="321.2" y2="529.7" stroke="#000" stroke-width="1.3"/>
<line x1="311.45" y1="512.4" x2="330.95" y2="512.4" stroke="#000" stroke-width="1.3"/>
<line x1="316.45" y1="495.7" x2="325.95" y2="495.7" stroke="#000" stroke-width="1.3"/>
<line x1="316.45" y1="529.7" x2="325.95" y2="529.7" stroke="#000" stroke-width="1.3"/>
<path d="M346.96 498.71L352.24 498.71L349.6 503.89Z" fill="#000"/>
<path d="M344.36 520.11L349.64 520.11L347 525.29Z" fill="#000"/>
<path d="M349.56 520.61L354.84 520.61L352.2 525.79Z" fill="#000"/>
<path d="M346.96 532.91L352.24 532.91L349.6 538.09Z" fill="#000"/>
<line x1="349.6" y1="511" x2="349.6" y2="533.7" stroke="#000" stroke-width="1.3"/>
<line x1="339.85" y1="522" x2="359.35" y2="522" stroke="#000" stroke-width="1.3"/>
<line x1="344.85" y1="511" x2="354.35" y2="511" stroke="#000" stroke-width="1.3"/>
<line x1="344.85" y1="533.7" x2="354.35" y2="533.7" stroke="#000" stroke-width="1.3"/>
<text x="263.8" y="571" font-size="9.3" font-family="Liberation Sans" font-weight="bold" stroke="#000" stroke-width="0.22" text-anchor="middle" fill="#000" >Ctrl</text>
<text x="292.6" y="571" font-size="9.3" font-family="Liberation Sans" font-weight="bold" stroke="#000" stroke-width="0.22" text-anchor="middle" fill="#000" >PE</text>
<text x="321.2" y="571" font-size="9.3" font-family="Liberation Sans" font-weight="bold" stroke="#000" stroke-width="0.22" text-anchor="middle" fill="#000" >Ctrl</text>
<text x="349.6" y="571" font-size="9.3" font-family="Liberation Sans" font-weight="bold" stroke="#000" stroke-width="0.22" text-anchor="middle" fill="#000" >PE</text>
<line x1="256.4" y1="576" x2="299.5" y2="576" stroke="#000" stroke-width="1.4"/>
<line x1="313.8" y1="576" x2="356.5" y2="576" stroke="#000" stroke-width="1.4"/>
<text x="278.2" y="589.4" font-size="10" font-family="Liberation Sans" font-weight="bold" stroke="#000" stroke-width="0.22" text-anchor="middle" fill="#000" >Term</text>
<text x="335.4" y="589.4" font-size="10" font-family="Liberation Sans" font-weight="bold" stroke="#000" stroke-width="0.22" text-anchor="middle" fill="#000" >Pre-term</text>
<text transform="translate(211.9,495.8) rotate(-90)" font-size="10.25" font-family="Liberation Sans" font-weight="bold" stroke="#000" stroke-width="0.22" text-anchor="middle">Citrate synthase activity</text>
<text transform="translate(223.6,495.8) rotate(-90)" font-size="10.25" font-family="Liberation Sans" font-weight="bold" stroke="#000" stroke-width="0.22" text-anchor="middle">(nM/min/mL)</text>
<text x="304.7" y="441.5" font-size="9.8" font-family="Liberation Sans" text-anchor="start" fill="#111" stroke="#111" stroke-width="0.15">Gestation</text>
<path d="M352 436L352 434.15M352 436L353.76 435.43M352 436L353.09 437.5M352 436L350.91 437.5M352 436L350.24 435.43" stroke="#000" stroke-width="0.95" fill="none"/>
<path d="M356.75 436L356.75 434.15M356.75 436L358.51 435.43M356.75 436L357.84 437.5M356.75 436L355.66 437.5M356.75 436L354.99 435.43" stroke="#000" stroke-width="0.95" fill="none"/>
<path d="M361.5 436L361.5 434.15M361.5 436L363.26 435.43M361.5 436L362.59 437.5M361.5 436L360.41 437.5M361.5 436L359.74 435.43" stroke="#000" stroke-width="0.95" fill="none"/>
<path d="M366.25 436L366.25 434.15M366.25 436L368.01 435.43M366.25 436L367.34 437.5M366.25 436L365.16 437.5M366.25 436L364.49 435.43" stroke="#000" stroke-width="0.95" fill="none"/>
<line x1="447.5" y1="44" x2="447.5" y2="168" stroke="#000" stroke-width="1.2"/>
<line x1="446.9" y1="167.4" x2="530" y2="167.4" stroke="#000" stroke-width="1.2"/>
<line x1="444.5" y1="167.4" x2="447.5" y2="167.4" stroke="#000" stroke-width="1.1"/>
<text transform="translate(442.9,170.8) scale(1.0,1)" font-size="9.7" font-family="Liberation Sans" font-weight="bold" text-anchor="end">0</text>
<line x1="444.5" y1="136.7" x2="447.5" y2="136.7" stroke="#000" stroke-width="1.1"/>
<text transform="translate(442.9,140.1) scale(1.0,1)" font-size="9.7" font-family="Liberation Sans" font-weight="bold" text-anchor="end">5</text>
<line x1="444.5" y1="106" x2="447.5" y2="106" stroke="#000" stroke-width="1.1"/>
<text transform="translate(442.9,109.4) scale(1.0,1)" font-size="9.7" font-family="Liberation Sans" font-weight="bold" text-anchor="end">10</text>
<line x1="444.5" y1="75.3" x2="447.5" y2="75.3" stroke="#000" stroke-width="1.1"/>
<text transform="translate(442.9,78.7) scale(1.0,1)" font-size="9.7" font-family="Liberation Sans" font-weight="bold" text-anchor="end">15</text>
<line x1="444.5" y1="44.6" x2="447.5" y2="44.6" stroke="#000" stroke-width="1.1"/>
<text transform="translate(442.9,48) scale(1.0,1)" font-size="9.7" font-family="Liberation Sans" font-weight="bold" text-anchor="end">20</text>
<line x1="468" y1="167.4" x2="468" y2="169.8" stroke="#000" stroke-width="1.1"/>
<line x1="509" y1="167.4" x2="509" y2="169.8" stroke="#000" stroke-width="1.1"/>
<text x="468" y="181.6" font-size="9.6" font-family="Liberation Sans" font-weight="bold" stroke="#000" stroke-width="0.22" text-anchor="middle" fill="#000" >Ctrl</text>
<text x="509" y="181.6" font-size="9.6" font-family="Liberation Sans" font-weight="bold" stroke="#000" stroke-width="0.22" text-anchor="middle" fill="#000" >PE</text>
<text x="450.5" y="29.6" font-size="11.7" font-family="Liberation Sans" font-weight="bold" stroke="#000" stroke-width="0.22" text-anchor="start" fill="#000" >OXPHOS I</text>
<circle cx="468" cy="97" r="2.45" fill="none" stroke="#4a4a4a" stroke-width="1.05"/>
<circle cx="471.6" cy="109" r="2.45" fill="none" stroke="#4a4a4a" stroke-width="1.05"/>
<circle cx="464.2" cy="110.8" r="2.45" fill="none" stroke="#4a4a4a" stroke-width="1.05"/>
<circle cx="457.8" cy="115.4" r="2.45" fill="none" stroke="#4a4a4a" stroke-width="1.05"/>
<circle cx="472.7" cy="116" r="2.45" fill="none" stroke="#4a4a4a" stroke-width="1.05"/>
<circle cx="477.8" cy="114.9" r="2.45" fill="none" stroke="#4a4a4a" stroke-width="1.05"/>
<circle cx="462.9" cy="119.5" r="2.45" fill="none" stroke="#4a4a4a" stroke-width="1.05"/>
<circle cx="467.9" cy="121.7" r="2.45" fill="none" stroke="#4a4a4a" stroke-width="1.05"/>
<circle cx="468" cy="133.5" r="2.45" fill="none" stroke="#4a4a4a" stroke-width="1.05"/>
<rect x="506.65" y="64.55" width="4.7" height="4.7" fill="none" stroke="#4a4a4a" stroke-width="1.05"/>
<rect x="506.65" y="80.95" width="4.7" height="4.7" fill="none" stroke="#4a4a4a" stroke-width="1.05"/>
<rect x="499.25" y="91.15" width="4.7" height="4.7" fill="none" stroke="#4a4a4a" stroke-width="1.05"/>
<rect x="510.75" y="89.15" width="4.7" height="4.7" fill="none" stroke="#4a4a4a" stroke-width="1.05"/>
<rect x="503.35" y="95.25" width="4.7" height="4.7" fill="none" stroke="#4a4a4a" stroke-width="1.05"/>
<rect x="510.75" y="101.45" width="4.7" height="4.7" fill="none" stroke="#4a4a4a" stroke-width="1.05"/>
<rect x="499.25" y="109.05" width="4.7" height="4.7" fill="none" stroke="#4a4a4a" stroke-width="1.05"/>
<rect x="506.65" y="115.35" width="4.7" height="4.7" fill="none" stroke="#4a4a4a" stroke-width="1.05"/>
<rect x="513.95" y="115.35" width="4.7" height="4.7" fill="none" stroke="#4a4a4a" stroke-width="1.05"/>
<line x1="468" y1="105.4" x2="468" y2="125.3" stroke="#000" stroke-width="1.2"/>
<line x1="454.5" y1="115.5" x2="481.5" y2="115.5" stroke="#000" stroke-width="1.2"/>
<line x1="461" y1="105.4" x2="475" y2="105.4" stroke="#000" stroke-width="1.2"/>
<line x1="461" y1="125.3" x2="475" y2="125.3" stroke="#000" stroke-width="1.2"/>
<line x1="509" y1="81.6" x2="509" y2="114.6" stroke="#000" stroke-width="1.2"/>
<line x1="495.5" y1="98.3" x2="522.5" y2="98.3" stroke="#000" stroke-width="1.2"/>
<line x1="502" y1="81.6" x2="516" y2="81.6" stroke="#000" stroke-width="1.2"/>
<line x1="502" y1="114.6" x2="516" y2="114.6" stroke="#000" stroke-width="1.2"/>
<path d="M505.5 49.4L505.5 46.5M505.5 49.4L508.26 48.5M505.5 49.4L507.2 51.75M505.5 49.4L503.8 51.75M505.5 49.4L502.74 48.5" stroke="#000" stroke-width="1.15" fill="none"/>
<path d="M512.5 49.4L512.5 46.5M512.5 49.4L515.26 48.5M512.5 49.4L514.2 51.75M512.5 49.4L510.8 51.75M512.5 49.4L509.74 48.5" stroke="#000" stroke-width="1.15" fill="none"/>
<text transform="translate(425,106.7) rotate(-90)" font-size="10" font-family="Liberation Sans" font-weight="bold" stroke="#000" stroke-width="0.22" text-anchor="middle">O<tspan font-size="8" dy="1.9" dx="0.2">2</tspan><tspan dy="-1.9" dx="0.9"> Flux per mass pmol/(s*mg)</tspan></text>
<line x1="590.7" y1="43.8" x2="590.7" y2="168.1" stroke="#000" stroke-width="1.2"/>
<line x1="590.1" y1="167.5" x2="673.3" y2="167.5" stroke="#000" stroke-width="1.2"/>
<line x1="587.7" y1="167.5" x2="590.7" y2="167.5" stroke="#000" stroke-width="1.1"/>
<text transform="translate(586.1,170.9) scale(1.0,1)" font-size="9.7" font-family="Liberation Sans" font-weight="bold" text-anchor="end">0</text>
<line x1="587.7" y1="126.47" x2="590.7" y2="126.47" stroke="#000" stroke-width="1.1"/>
<text transform="translate(586.1,129.87) scale(1.0,1)" font-size="9.7" font-family="Liberation Sans" font-weight="bold" text-anchor="end">10</text>
<line x1="587.7" y1="85.43" x2="590.7" y2="85.43" stroke="#000" stroke-width="1.1"/>
<text transform="translate(586.1,88.83) scale(1.0,1)" font-size="9.7" font-family="Liberation Sans" font-weight="bold" text-anchor="end">20</text>
<line x1="587.7" y1="44.4" x2="590.7" y2="44.4" stroke="#000" stroke-width="1.1"/>
<text transform="translate(586.1,47.8) scale(1.0,1)" font-size="9.7" font-family="Liberation Sans" font-weight="bold" text-anchor="end">30</text>
<line x1="611" y1="167.5" x2="611" y2="169.9" stroke="#000" stroke-width="1.1"/>
<line x1="652.6" y1="167.5" x2="652.6" y2="169.9" stroke="#000" stroke-width="1.1"/>
<text x="611" y="181.7" font-size="9.6" font-family="Liberation Sans" font-weight="bold" stroke="#000" stroke-width="0.22" text-anchor="middle" fill="#000" >Ctrl</text>
<text x="652.6" y="181.7" font-size="9.6" font-family="Liberation Sans" font-weight="bold" stroke="#000" stroke-width="0.22" text-anchor="middle" fill="#000" >PE</text>
<text x="593.7" y="29.4" font-size="11.7" font-family="Liberation Sans" font-weight="bold" stroke="#000" stroke-width="0.22" text-anchor="start" fill="#000" >OXPHOS I+II</text>
<circle cx="610.9" cy="80.4" r="2.45" fill="none" stroke="#4a4a4a" stroke-width="1.05"/>
<circle cx="603.5" cy="86.7" r="2.45" fill="none" stroke="#4a4a4a" stroke-width="1.05"/>
<circle cx="610.9" cy="93.1" r="2.45" fill="none" stroke="#4a4a4a" stroke-width="1.05"/>
<circle cx="618.7" cy="91.6" r="2.45" fill="none" stroke="#4a4a4a" stroke-width="1.05"/>
<circle cx="603.5" cy="106.2" r="2.45" fill="none" stroke="#4a4a4a" stroke-width="1.05"/>
<circle cx="610.9" cy="107.9" r="2.45" fill="none" stroke="#4a4a4a" stroke-width="1.05"/>
<circle cx="618.7" cy="102.6" r="2.45" fill="none" stroke="#4a4a4a" stroke-width="1.05"/>
<circle cx="614.1" cy="110" r="2.45" fill="none" stroke="#4a4a4a" stroke-width="1.05"/>
<circle cx="607.3" cy="115.1" r="2.45" fill="none" stroke="#4a4a4a" stroke-width="1.05"/>
<rect x="650.25" y="56.25" width="4.7" height="4.7" fill="none" stroke="#4a4a4a" stroke-width="1.05"/>
<rect x="646.05" y="71.05" width="4.7" height="4.7" fill="none" stroke="#4a4a4a" stroke-width="1.05"/>
<rect x="657.65" y="74.25" width="4.7" height="4.7" fill="none" stroke="#4a4a4a" stroke-width="1.05"/>
<rect x="646.05" y="81.65" width="4.7" height="4.7" fill="none" stroke="#4a4a4a" stroke-width="1.05"/>
<rect x="653.05" y="82.25" width="4.7" height="4.7" fill="none" stroke="#4a4a4a" stroke-width="1.05"/>
<rect x="642.05" y="89.45" width="4.7" height="4.7" fill="none" stroke="#4a4a4a" stroke-width="1.05"/>
<rect x="657.65" y="87.75" width="4.7" height="4.7" fill="none" stroke="#4a4a4a" stroke-width="1.05"/>
<rect x="649.85" y="92.85" width="4.7" height="4.7" fill="none" stroke="#4a4a4a" stroke-width="1.05"/>
<rect x="649.85" y="105.55" width="4.7" height="4.7" fill="none" stroke="#4a4a4a" stroke-width="1.05"/>
<line x1="611" y1="87.6" x2="611" y2="110.4" stroke="#000" stroke-width="1.2"/>
<line x1="597.5" y1="99.2" x2="624.5" y2="99.2" stroke="#000" stroke-width="1.2"/>
<line x1="604" y1="87.6" x2="618" y2="87.6" stroke="#000" stroke-width="1.2"/>
<line x1="604" y1="110.4" x2="618" y2="110.4" stroke="#000" stroke-width="1.2"/>
<line x1="652.6" y1="70.2" x2="652.6" y2="98.8" stroke="#000" stroke-width="1.2"/>
<line x1="639.1" y1="84.6" x2="666.1" y2="84.6" stroke="#000" stroke-width="1.2"/>
<line x1="645.6" y1="70.2" x2="659.6" y2="70.2" stroke="#000" stroke-width="1.2"/>
<line x1="645.6" y1="98.8" x2="659.6" y2="98.8" stroke="#000" stroke-width="1.2"/>
<path d="M649.1 42.5L649.1 39.6M649.1 42.5L651.86 41.6M649.1 42.5L650.8 44.85M649.1 42.5L647.4 44.85M649.1 42.5L646.34 41.6" stroke="#000" stroke-width="1.15" fill="none"/>
<path d="M656.1 42.5L656.1 39.6M656.1 42.5L658.86 41.6M656.1 42.5L657.8 44.85M656.1 42.5L654.4 44.85M656.1 42.5L653.34 41.6" stroke="#000" stroke-width="1.15" fill="none"/>
<text transform="translate(568.2,106.65) rotate(-90)" font-size="10" font-family="Liberation Sans" font-weight="bold" stroke="#000" stroke-width="0.22" text-anchor="middle">O<tspan font-size="8" dy="1.9" dx="0.2">2</tspan><tspan dy="-1.9" dx="0.9"> Flux per mass pmol/(s*mg)</tspan></text>
<line x1="447.4" y1="238.4" x2="447.4" y2="363.2" stroke="#000" stroke-width="1.2"/>
<line x1="446.8" y1="362.6" x2="530" y2="362.6" stroke="#000" stroke-width="1.2"/>
<line x1="444.4" y1="362.6" x2="447.4" y2="362.6" stroke="#000" stroke-width="1.1"/>
<text transform="translate(442.8,366) scale(1.0,1)" font-size="9.7" font-family="Liberation Sans" font-weight="bold" text-anchor="end">0</text>
<line x1="444.4" y1="331.7" x2="447.4" y2="331.7" stroke="#000" stroke-width="1.1"/>
<text transform="translate(442.8,335.1) scale(1.0,1)" font-size="9.7" font-family="Liberation Sans" font-weight="bold" text-anchor="end">10</text>
<line x1="444.4" y1="300.8" x2="447.4" y2="300.8" stroke="#000" stroke-width="1.1"/>
<text transform="translate(442.8,304.2) scale(1.0,1)" font-size="9.7" font-family="Liberation Sans" font-weight="bold" text-anchor="end">20</text>
<line x1="444.4" y1="269.9" x2="447.4" y2="269.9" stroke="#000" stroke-width="1.1"/>
<text transform="translate(442.8,273.3) scale(1.0,1)" font-size="9.7" font-family="Liberation Sans" font-weight="bold" text-anchor="end">30</text>
<line x1="444.4" y1="239" x2="447.4" y2="239" stroke="#000" stroke-width="1.1"/>
<text transform="translate(442.8,242.4) scale(1.0,1)" font-size="9.7" font-family="Liberation Sans" font-weight="bold" text-anchor="end">40</text>
<line x1="468" y1="362.6" x2="468" y2="365" stroke="#000" stroke-width="1.1"/>
<line x1="510.4" y1="362.6" x2="510.4" y2="365" stroke="#000" stroke-width="1.1"/>
<text x="468" y="376.8" font-size="9.6" font-family="Liberation Sans" font-weight="bold" stroke="#000" stroke-width="0.22" text-anchor="middle" fill="#000" >Ctrl</text>
<text x="510.4" y="376.8" font-size="9.6" font-family="Liberation Sans" font-weight="bold" stroke="#000" stroke-width="0.22" text-anchor="middle" fill="#000" >PE</text>
<text x="450.4" y="224" font-size="11.7" font-family="Liberation Sans" font-weight="bold" stroke="#000" stroke-width="0.22" text-anchor="start" fill="#000" >ETS</text>
<circle cx="464.2" cy="281.6" r="2.45" fill="none" stroke="#4a4a4a" stroke-width="1.05"/>
<circle cx="471.6" cy="284.7" r="2.45" fill="none" stroke="#4a4a4a" stroke-width="1.05"/>
<circle cx="467.9" cy="293.4" r="2.45" fill="none" stroke="#4a4a4a" stroke-width="1.05"/>
<circle cx="458.1" cy="299.5" r="2.45" fill="none" stroke="#4a4a4a" stroke-width="1.05"/>
<circle cx="464.2" cy="296.9" r="2.45" fill="none" stroke="#4a4a4a" stroke-width="1.05"/>
<circle cx="471.6" cy="293.8" r="2.45" fill="none" stroke="#4a4a4a" stroke-width="1.05"/>
<circle cx="478.2" cy="300.8" r="2.45" fill="none" stroke="#4a4a4a" stroke-width="1.05"/>
<circle cx="464.2" cy="303.8" r="2.45" fill="none" stroke="#4a4a4a" stroke-width="1.05"/>
<circle cx="467.9" cy="315.2" r="2.45" fill="none" stroke="#4a4a4a" stroke-width="1.05"/>
<rect x="506.95" y="262.25" width="4.7" height="4.7" fill="none" stroke="#4a4a4a" stroke-width="1.05"/>
<rect x="510.65" y="277.55" width="4.7" height="4.7" fill="none" stroke="#4a4a4a" stroke-width="1.05"/>
<rect x="502.65" y="282.35" width="4.7" height="4.7" fill="none" stroke="#4a4a4a" stroke-width="1.05"/>
<rect x="514.55" y="286.25" width="4.7" height="4.7" fill="none" stroke="#4a4a4a" stroke-width="1.05"/>
<rect x="495.45" y="287.75" width="4.7" height="4.7" fill="none" stroke="#4a4a4a" stroke-width="1.05"/>
<rect x="506.35" y="291.05" width="4.7" height="4.7" fill="none" stroke="#4a4a4a" stroke-width="1.05"/>
<rect x="499.35" y="294.25" width="4.7" height="4.7" fill="none" stroke="#4a4a4a" stroke-width="1.05"/>
<rect x="506.35" y="301.95" width="4.7" height="4.7" fill="none" stroke="#4a4a4a" stroke-width="1.05"/>
<rect x="514.55" y="299.75" width="4.7" height="4.7" fill="none" stroke="#4a4a4a" stroke-width="1.05"/>
<line x1="468" y1="287.5" x2="468" y2="308.2" stroke="#000" stroke-width="1.2"/>
<line x1="454.5" y1="297.7" x2="481.5" y2="297.7" stroke="#000" stroke-width="1.2"/>
<line x1="461" y1="287.5" x2="475" y2="287.5" stroke="#000" stroke-width="1.2"/>
<line x1="461" y1="308.2" x2="475" y2="308.2" stroke="#000" stroke-width="1.2"/>
<line x1="510.4" y1="277.5" x2="510.4" y2="301.4" stroke="#000" stroke-width="1.2"/>
<line x1="496.9" y1="289.5" x2="523.9" y2="289.5" stroke="#000" stroke-width="1.2"/>
<line x1="503.4" y1="277.5" x2="517.4" y2="277.5" stroke="#000" stroke-width="1.2"/>
<line x1="503.4" y1="301.4" x2="517.4" y2="301.4" stroke="#000" stroke-width="1.2"/>
<text transform="translate(424.9,301.5) rotate(-90)" font-size="10" font-family="Liberation Sans" font-weight="bold" stroke="#000" stroke-width="0.22" text-anchor="middle">O<tspan font-size="8" dy="1.9" dx="0.2">2</tspan><tspan dy="-1.9" dx="0.9"> Flux per mass pmol/(s*mg)</tspan></text>
<line x1="590.6" y1="238" x2="590.6" y2="363.2" stroke="#000" stroke-width="1.2"/>
<line x1="590" y1="362.6" x2="673.2" y2="362.6" stroke="#000" stroke-width="1.2"/>
<line x1="587.6" y1="362.6" x2="590.6" y2="362.6" stroke="#000" stroke-width="1.1"/>
<text transform="translate(586,366) scale(1.0,1)" font-size="9.7" font-family="Liberation Sans" font-weight="bold" text-anchor="end">0</text>
<line x1="587.6" y1="321.27" x2="590.6" y2="321.27" stroke="#000" stroke-width="1.1"/>
<text transform="translate(586,324.67) scale(1.0,1)" font-size="9.7" font-family="Liberation Sans" font-weight="bold" text-anchor="end">5</text>
<line x1="587.6" y1="279.93" x2="590.6" y2="279.93" stroke="#000" stroke-width="1.1"/>
<text transform="translate(586,283.33) scale(1.0,1)" font-size="9.7" font-family="Liberation Sans" font-weight="bold" text-anchor="end">10</text>
<line x1="587.6" y1="238.6" x2="590.6" y2="238.6" stroke="#000" stroke-width="1.1"/>
<text transform="translate(586,242) scale(1.0,1)" font-size="9.7" font-family="Liberation Sans" font-weight="bold" text-anchor="end">15</text>
<line x1="611.4" y1="362.6" x2="611.4" y2="365" stroke="#000" stroke-width="1.1"/>
<line x1="652.6" y1="362.6" x2="652.6" y2="365" stroke="#000" stroke-width="1.1"/>
<text x="611.4" y="376.8" font-size="9.6" font-family="Liberation Sans" font-weight="bold" stroke="#000" stroke-width="0.22" text-anchor="middle" fill="#000" >Ctrl</text>
<text x="652.6" y="376.8" font-size="9.6" font-family="Liberation Sans" font-weight="bold" stroke="#000" stroke-width="0.22" text-anchor="middle" fill="#000" >PE</text>
<text x="593.6" y="223.6" font-size="11.7" font-family="Liberation Sans" font-weight="bold" stroke="#000" stroke-width="0.22" text-anchor="start" fill="#000" >CI-CII</text>
<circle cx="601.4" cy="282.5" r="2.45" fill="none" stroke="#4a4a4a" stroke-width="1.05"/>
<circle cx="607.9" cy="285.8" r="2.45" fill="none" stroke="#4a4a4a" stroke-width="1.05"/>
<circle cx="614.7" cy="282.9" r="2.45" fill="none" stroke="#4a4a4a" stroke-width="1.05"/>
<circle cx="621.2" cy="279.4" r="2.45" fill="none" stroke="#4a4a4a" stroke-width="1.05"/>
<circle cx="607.9" cy="296.6" r="2.45" fill="none" stroke="#4a4a4a" stroke-width="1.05"/>
<circle cx="614.7" cy="302.7" r="2.45" fill="none" stroke="#4a4a4a" stroke-width="1.05"/>
<circle cx="603.1" cy="308.6" r="2.45" fill="none" stroke="#4a4a4a" stroke-width="1.05"/>
<circle cx="618.4" cy="309.7" r="2.45" fill="none" stroke="#4a4a4a" stroke-width="1.05"/>
<circle cx="611.4" cy="311.9" r="2.45" fill="none" stroke="#4a4a4a" stroke-width="1.05"/>
<rect x="649.75" y="262.75" width="4.7" height="4.7" fill="none" stroke="#4a4a4a" stroke-width="1.05"/>
<rect x="649.75" y="276.25" width="4.7" height="4.7" fill="none" stroke="#4a4a4a" stroke-width="1.05"/>
<rect x="642.65" y="282.75" width="4.7" height="4.7" fill="none" stroke="#4a4a4a" stroke-width="1.05"/>
<rect x="649.75" y="284.45" width="4.7" height="4.7" fill="none" stroke="#4a4a4a" stroke-width="1.05"/>
<rect x="656.95" y="283.45" width="4.7" height="4.7" fill="none" stroke="#4a4a4a" stroke-width="1.05"/>
<rect x="642.65" y="293.85" width="4.7" height="4.7" fill="none" stroke="#4a4a4a" stroke-width="1.05"/>
<rect x="656.95" y="291.65" width="4.7" height="4.7" fill="none" stroke="#4a4a4a" stroke-width="1.05"/>
<rect x="649.75" y="297.15" width="4.7" height="4.7" fill="none" stroke="#4a4a4a" stroke-width="1.05"/>
<rect x="649.75" y="307.35" width="4.7" height="4.7" fill="none" stroke="#4a4a4a" stroke-width="1.05"/>
<line x1="611.4" y1="282.5" x2="611.4" y2="308.2" stroke="#000" stroke-width="1.2"/>
<line x1="597.9" y1="295.6" x2="624.9" y2="295.6" stroke="#000" stroke-width="1.2"/>
<line x1="604.4" y1="282.5" x2="618.4" y2="282.5" stroke="#000" stroke-width="1.2"/>
<line x1="604.4" y1="308.2" x2="618.4" y2="308.2" stroke="#000" stroke-width="1.2"/>
<line x1="652.6" y1="276.4" x2="652.6" y2="302.1" stroke="#000" stroke-width="1.2"/>
<line x1="639.1" y1="289.5" x2="666.1" y2="289.5" stroke="#000" stroke-width="1.2"/>
<line x1="645.6" y1="276.4" x2="659.6" y2="276.4" stroke="#000" stroke-width="1.2"/>
<line x1="645.6" y1="302.1" x2="659.6" y2="302.1" stroke="#000" stroke-width="1.2"/>
<text transform="translate(568.1,301.3) rotate(-90)" font-size="10" font-family="Liberation Sans" font-weight="bold" stroke="#000" stroke-width="0.22" text-anchor="middle">O<tspan font-size="8" dy="1.9" dx="0.2">2</tspan><tspan dy="-1.9" dx="0.9"> Flux per mass pmol/(s*mg)</tspan></text>
<line x1="447.6" y1="433.3" x2="447.6" y2="558.1" stroke="#000" stroke-width="1.2"/>
<line x1="447" y1="557.5" x2="529.9" y2="557.5" stroke="#000" stroke-width="1.2"/>
<line x1="444.6" y1="557.5" x2="447.6" y2="557.5" stroke="#000" stroke-width="1.1"/>
<text transform="translate(443,560.9) scale(1.0,1)" font-size="9.7" font-family="Liberation Sans" font-weight="bold" text-anchor="end">0</text>
<line x1="444.6" y1="516.3" x2="447.6" y2="516.3" stroke="#000" stroke-width="1.1"/>
<text transform="translate(443,519.7) scale(1.0,1)" font-size="9.7" font-family="Liberation Sans" font-weight="bold" text-anchor="end">20</text>
<line x1="444.6" y1="475.1" x2="447.6" y2="475.1" stroke="#000" stroke-width="1.1"/>
<text transform="translate(443,478.5) scale(1.0,1)" font-size="9.7" font-family="Liberation Sans" font-weight="bold" text-anchor="end">40</text>
<line x1="444.6" y1="433.9" x2="447.6" y2="433.9" stroke="#000" stroke-width="1.1"/>
<text transform="translate(443,437.3) scale(1.0,1)" font-size="9.7" font-family="Liberation Sans" font-weight="bold" text-anchor="end">60</text>
<line x1="467.6" y1="557.5" x2="467.6" y2="559.9" stroke="#000" stroke-width="1.1"/>
<line x1="508.7" y1="557.5" x2="508.7" y2="559.9" stroke="#000" stroke-width="1.1"/>
<text x="467.6" y="571.7" font-size="9.6" font-family="Liberation Sans" font-weight="bold" stroke="#000" stroke-width="0.22" text-anchor="middle" fill="#000" >Ctrl</text>
<text x="508.7" y="571.7" font-size="9.6" font-family="Liberation Sans" font-weight="bold" stroke="#000" stroke-width="0.22" text-anchor="middle" fill="#000" >PE</text>
<text x="450.6" y="418.9" font-size="11.7" font-family="Liberation Sans" font-weight="bold" stroke="#000" stroke-width="0.22" text-anchor="start" fill="#000" >OXPHOS IV</text>
<circle cx="467.6" cy="456" r="2.45" fill="none" stroke="#4a4a4a" stroke-width="1.05"/>
<circle cx="467.6" cy="470.3" r="2.45" fill="none" stroke="#4a4a4a" stroke-width="1.05"/>
<circle cx="457.7" cy="476.1" r="2.45" fill="none" stroke="#4a4a4a" stroke-width="1.05"/>
<circle cx="478.5" cy="474.3" r="2.45" fill="none" stroke="#4a4a4a" stroke-width="1.05"/>
<circle cx="464.2" cy="484.2" r="2.45" fill="none" stroke="#4a4a4a" stroke-width="1.05"/>
<circle cx="470.6" cy="479.6" r="2.45" fill="none" stroke="#4a4a4a" stroke-width="1.05"/>
<circle cx="471.6" cy="488.8" r="2.45" fill="none" stroke="#4a4a4a" stroke-width="1.05"/>
<circle cx="467.6" cy="498.5" r="2.45" fill="none" stroke="#4a4a4a" stroke-width="1.05"/>
<rect x="506.35" y="457.15" width="4.7" height="4.7" fill="none" stroke="#4a4a4a" stroke-width="1.05"/>
<rect x="506.35" y="467.95" width="4.7" height="4.7" fill="none" stroke="#4a4a4a" stroke-width="1.05"/>
<rect x="506.35" y="482.55" width="4.7" height="4.7" fill="none" stroke="#4a4a4a" stroke-width="1.05"/>
<rect x="495.25" y="489.45" width="4.7" height="4.7" fill="none" stroke="#4a4a4a" stroke-width="1.05"/>
<rect x="499.15" y="492.65" width="4.7" height="4.7" fill="none" stroke="#4a4a4a" stroke-width="1.05"/>
<rect x="514.45" y="485.25" width="4.7" height="4.7" fill="none" stroke="#4a4a4a" stroke-width="1.05"/>
<rect x="506.35" y="491.75" width="4.7" height="4.7" fill="none" stroke="#4a4a4a" stroke-width="1.05"/>
<rect x="514.45" y="495.65" width="4.7" height="4.7" fill="none" stroke="#4a4a4a" stroke-width="1.05"/>
<rect x="506.35" y="500.25" width="4.7" height="4.7" fill="none" stroke="#4a4a4a" stroke-width="1.05"/>
<line x1="467.6" y1="466.9" x2="467.6" y2="490.4" stroke="#000" stroke-width="1.2"/>
<line x1="454.1" y1="478.4" x2="481.1" y2="478.4" stroke="#000" stroke-width="1.2"/>
<line x1="460.6" y1="466.9" x2="474.6" y2="466.9" stroke="#000" stroke-width="1.2"/>
<line x1="460.6" y1="490.4" x2="474.6" y2="490.4" stroke="#000" stroke-width="1.2"/>
<line x1="508.7" y1="473.3" x2="508.7" y2="500.8" stroke="#000" stroke-width="1.2"/>
<line x1="495.2" y1="487.2" x2="522.2" y2="487.2" stroke="#000" stroke-width="1.2"/>
<line x1="501.7" y1="473.3" x2="515.7" y2="473.3" stroke="#000" stroke-width="1.2"/>
<line x1="501.7" y1="500.8" x2="515.7" y2="500.8" stroke="#000" stroke-width="1.2"/>
<text transform="translate(425.1,496.4) rotate(-90)" font-size="10" font-family="Liberation Sans" font-weight="bold" stroke="#000" stroke-width="0.22" text-anchor="middle">O<tspan font-size="8" dy="1.9" dx="0.2">2</tspan><tspan dy="-1.9" dx="0.9"> Flux per mass pmol/(s*mg)</tspan></text>
<line x1="590.3" y1="433.3" x2="590.3" y2="558" stroke="#000" stroke-width="1.2"/>
<line x1="589.7" y1="557.4" x2="673.2" y2="557.4" stroke="#000" stroke-width="1.2"/>
<line x1="587.3" y1="557.4" x2="590.3" y2="557.4" stroke="#000" stroke-width="1.1"/>
<text transform="translate(585.7,560.8) scale(1.0,1)" font-size="9.7" font-family="Liberation Sans" font-weight="bold" text-anchor="end">0</text>
<line x1="587.3" y1="516.23" x2="590.3" y2="516.23" stroke="#000" stroke-width="1.1"/>
<text transform="translate(585.7,519.63) scale(1.0,1)" font-size="9.7" font-family="Liberation Sans" font-weight="bold" text-anchor="end">1</text>
<line x1="587.3" y1="475.07" x2="590.3" y2="475.07" stroke="#000" stroke-width="1.1"/>
<text transform="translate(585.7,478.47) scale(1.0,1)" font-size="9.7" font-family="Liberation Sans" font-weight="bold" text-anchor="end">2</text>
<line x1="587.3" y1="433.9" x2="590.3" y2="433.9" stroke="#000" stroke-width="1.1"/>
<text transform="translate(585.7,437.3) scale(1.0,1)" font-size="9.7" font-family="Liberation Sans" font-weight="bold" text-anchor="end">3</text>
<line x1="611" y1="557.4" x2="611" y2="559.8" stroke="#000" stroke-width="1.1"/>
<line x1="652.5" y1="557.4" x2="652.5" y2="559.8" stroke="#000" stroke-width="1.1"/>
<text x="611" y="571.6" font-size="9.6" font-family="Liberation Sans" font-weight="bold" stroke="#000" stroke-width="0.22" text-anchor="middle" fill="#000" >Ctrl</text>
<text x="652.5" y="571.6" font-size="9.6" font-family="Liberation Sans" font-weight="bold" stroke="#000" stroke-width="0.22" text-anchor="middle" fill="#000" >PE</text>
<text x="593.3" y="418.9" font-size="11.7" font-family="Liberation Sans" font-weight="bold" stroke="#000" stroke-width="0.22" text-anchor="start" fill="#000" >LEAK</text>
<circle cx="611" cy="463.4" r="2.45" fill="none" stroke="#4a4a4a" stroke-width="1.05"/>
<circle cx="614.9" cy="467.3" r="2.45" fill="none" stroke="#4a4a4a" stroke-width="1.05"/>
<circle cx="607.5" cy="471.5" r="2.45" fill="none" stroke="#4a4a4a" stroke-width="1.05"/>
<circle cx="607.5" cy="479.3" r="2.45" fill="none" stroke="#4a4a4a" stroke-width="1.05"/>
<circle cx="614.9" cy="481.1" r="2.45" fill="none" stroke="#4a4a4a" stroke-width="1.05"/>
<circle cx="611" cy="493.4" r="2.45" fill="none" stroke="#4a4a4a" stroke-width="1.05"/>
<circle cx="607.5" cy="504.9" r="2.45" fill="none" stroke="#4a4a4a" stroke-width="1.05"/>
<circle cx="614.9" cy="507.2" r="2.45" fill="none" stroke="#4a4a4a" stroke-width="1.05"/>
<circle cx="611" cy="515.3" r="2.45" fill="none" stroke="#4a4a4a" stroke-width="1.05"/>
<rect x="650.15" y="444.45" width="4.7" height="4.7" fill="none" stroke="#4a4a4a" stroke-width="1.05"/>
<rect x="642.55" y="460.35" width="4.7" height="4.7" fill="none" stroke="#4a4a4a" stroke-width="1.05"/>
<rect x="650.15" y="461.05" width="4.7" height="4.7" fill="none" stroke="#4a4a4a" stroke-width="1.05"/>
<rect x="657.55" y="460.35" width="4.7" height="4.7" fill="none" stroke="#4a4a4a" stroke-width="1.05"/>
<rect x="642.55" y="473.75" width="4.7" height="4.7" fill="none" stroke="#4a4a4a" stroke-width="1.05"/>
<rect x="650.15" y="476.45" width="4.7" height="4.7" fill="none" stroke="#4a4a4a" stroke-width="1.05"/>
<rect x="657.55" y="474.85" width="4.7" height="4.7" fill="none" stroke="#4a4a4a" stroke-width="1.05"/>
<rect x="650.15" y="488.75" width="4.7" height="4.7" fill="none" stroke="#4a4a4a" stroke-width="1.05"/>
<rect x="650.15" y="496.35" width="4.7" height="4.7" fill="none" stroke="#4a4a4a" stroke-width="1.05"/>
<line x1="611" y1="468.2" x2="611" y2="505.6" stroke="#000" stroke-width="1.2"/>
<line x1="597.5" y1="487.1" x2="624.5" y2="487.1" stroke="#000" stroke-width="1.2"/>
<line x1="604" y1="468.2" x2="618" y2="468.2" stroke="#000" stroke-width="1.2"/>
<line x1="604" y1="505.6" x2="618" y2="505.6" stroke="#000" stroke-width="1.2"/>
<line x1="652.5" y1="457.2" x2="652.5" y2="488.3" stroke="#000" stroke-width="1.2"/>
<line x1="639" y1="473.1" x2="666" y2="473.1" stroke="#000" stroke-width="1.2"/>
<line x1="645.5" y1="457.2" x2="659.5" y2="457.2" stroke="#000" stroke-width="1.2"/>
<line x1="645.5" y1="488.3" x2="659.5" y2="488.3" stroke="#000" stroke-width="1.2"/>
<text transform="translate(567.8,496.35) rotate(-90)" font-size="10" font-family="Liberation Sans" font-weight="bold" stroke="#000" stroke-width="0.22" text-anchor="middle">O<tspan font-size="8" dy="1.9" dx="0.2">2</tspan><tspan dy="-1.9" dx="0.9"> Flux per mass pmol/(s*mg)</tspan></text>
<path d="M652.5 428.8L652.5 425.9M652.5 428.8L655.26 427.9M652.5 428.8L654.2 431.15M652.5 428.8L650.8 431.15M652.5 428.8L649.74 427.9" stroke="#000" stroke-width="1.15" fill="none"/>
<line x1="446.4" y1="622.9" x2="446.4" y2="747.7" stroke="#000" stroke-width="1.2"/>
<line x1="445.8" y1="747.1" x2="529.6" y2="747.1" stroke="#000" stroke-width="1.2"/>
<line x1="443.4" y1="747.1" x2="446.4" y2="747.1" stroke="#000" stroke-width="1.1"/>
<text transform="translate(441.8,750.5) scale(1.0,1)" font-size="9.7" font-family="Liberation Sans" font-weight="bold" text-anchor="end">0.35</text>
<line x1="443.4" y1="722.38" x2="446.4" y2="722.38" stroke="#000" stroke-width="1.1"/>
<text transform="translate(441.8,725.78) scale(1.0,1)" font-size="9.7" font-family="Liberation Sans" font-weight="bold" text-anchor="end">0.40</text>
<line x1="443.4" y1="697.66" x2="446.4" y2="697.66" stroke="#000" stroke-width="1.1"/>
<text transform="translate(441.8,701.06) scale(1.0,1)" font-size="9.7" font-family="Liberation Sans" font-weight="bold" text-anchor="end">0.45</text>
<line x1="443.4" y1="672.94" x2="446.4" y2="672.94" stroke="#000" stroke-width="1.1"/>
<text transform="translate(441.8,676.34) scale(1.0,1)" font-size="9.7" font-family="Liberation Sans" font-weight="bold" text-anchor="end">0.50</text>
<line x1="443.4" y1="648.22" x2="446.4" y2="648.22" stroke="#000" stroke-width="1.1"/>
<text transform="translate(441.8,651.62) scale(1.0,1)" font-size="9.7" font-family="Liberation Sans" font-weight="bold" text-anchor="end">0.55</text>
<line x1="443.4" y1="623.5" x2="446.4" y2="623.5" stroke="#000" stroke-width="1.1"/>
<text transform="translate(441.8,626.9) scale(1.0,1)" font-size="9.7" font-family="Liberation Sans" font-weight="bold" text-anchor="end">0.60</text>
<line x1="467.9" y1="747.1" x2="467.9" y2="749.5" stroke="#000" stroke-width="1.1"/>
<line x1="508.8" y1="747.1" x2="508.8" y2="749.5" stroke="#000" stroke-width="1.1"/>
<text x="467.9" y="761.3" font-size="9.6" font-family="Liberation Sans" font-weight="bold" stroke="#000" stroke-width="0.22" text-anchor="middle" fill="#000" >Ctrl</text>
<text x="508.8" y="761.3" font-size="9.6" font-family="Liberation Sans" font-weight="bold" stroke="#000" stroke-width="0.22" text-anchor="middle" fill="#000" >PE</text>
<text x="449.4" y="608.5" font-size="11.7" font-family="Liberation Sans" font-weight="bold" stroke="#000" stroke-width="0.22" text-anchor="start" fill="#000" >FCF CI</text>
<circle cx="467.9" cy="687.4" r="2.45" fill="none" stroke="#4a4a4a" stroke-width="1.05"/>
<circle cx="464" cy="695.7" r="2.45" fill="none" stroke="#4a4a4a" stroke-width="1.05"/>
<circle cx="471.6" cy="698.2" r="2.45" fill="none" stroke="#4a4a4a" stroke-width="1.05"/>
<circle cx="467.9" cy="709.2" r="2.45" fill="none" stroke="#4a4a4a" stroke-width="1.05"/>
<circle cx="464" cy="717.3" r="2.45" fill="none" stroke="#4a4a4a" stroke-width="1.05"/>
<circle cx="471.6" cy="717.3" r="2.45" fill="none" stroke="#4a4a4a" stroke-width="1.05"/>
<circle cx="460.3" cy="730.2" r="2.45" fill="none" stroke="#4a4a4a" stroke-width="1.05"/>
<circle cx="467.9" cy="737.6" r="2.45" fill="none" stroke="#4a4a4a" stroke-width="1.05"/>
<circle cx="475.3" cy="735.1" r="2.45" fill="none" stroke="#4a4a4a" stroke-width="1.05"/>
<rect x="496.65" y="657.45" width="4.7" height="4.7" fill="none" stroke="#4a4a4a" stroke-width="1.05"/>
<rect x="501.55" y="659.85" width="4.7" height="4.7" fill="none" stroke="#4a4a4a" stroke-width="1.05"/>
<rect x="506.45" y="658.65" width="4.7" height="4.7" fill="none" stroke="#4a4a4a" stroke-width="1.05"/>
<rect x="506.45" y="662.25" width="4.7" height="4.7" fill="none" stroke="#4a4a4a" stroke-width="1.05"/>
<rect x="512.55" y="659.85" width="4.7" height="4.7" fill="none" stroke="#4a4a4a" stroke-width="1.05"/>
<rect x="516.25" y="659.35" width="4.7" height="4.7" fill="none" stroke="#4a4a4a" stroke-width="1.05"/>
<rect x="498.35" y="702.65" width="4.7" height="4.7" fill="none" stroke="#4a4a4a" stroke-width="1.05"/>
<rect x="506.45" y="700.25" width="4.7" height="4.7" fill="none" stroke="#4a4a4a" stroke-width="1.05"/>
<rect x="506.45" y="707.55" width="4.7" height="4.7" fill="none" stroke="#4a4a4a" stroke-width="1.05"/>
<rect x="513.75" y="707.55" width="4.7" height="4.7" fill="none" stroke="#4a4a4a" stroke-width="1.05"/>
<line x1="467.9" y1="696" x2="467.9" y2="732" stroke="#000" stroke-width="1.2"/>
<line x1="454.4" y1="714.3" x2="481.4" y2="714.3" stroke="#000" stroke-width="1.2"/>
<line x1="460.9" y1="696" x2="474.9" y2="696" stroke="#000" stroke-width="1.2"/>
<line x1="460.9" y1="732" x2="474.9" y2="732" stroke="#000" stroke-width="1.2"/>
<line x1="508.8" y1="659.3" x2="508.8" y2="705" stroke="#000" stroke-width="1.2"/>
<line x1="495.3" y1="682.3" x2="522.3" y2="682.3" stroke="#000" stroke-width="1.2"/>
<line x1="501.8" y1="659.3" x2="515.8" y2="659.3" stroke="#000" stroke-width="1.2"/>
<line x1="501.8" y1="705" x2="515.8" y2="705" stroke="#000" stroke-width="1.2"/>
<path d="M505.3 642L505.3 639.1M505.3 642L508.06 641.1M505.3 642L507 644.35M505.3 642L503.6 644.35M505.3 642L502.54 641.1" stroke="#000" stroke-width="1.15" fill="none"/>
<path d="M512.3 642L512.3 639.1M512.3 642L515.06 641.1M512.3 642L514 644.35M512.3 642L510.6 644.35M512.3 642L509.54 641.1" stroke="#000" stroke-width="1.15" fill="none"/>
<text transform="translate(406.8,681.8) rotate(-90)" font-size="9.5" font-family="Liberation Sans" font-weight="bold" stroke="#000" stroke-width="0.22" text-anchor="middle">Proportion of maximum</text>
<text transform="translate(419.4,681.8) rotate(-90)" font-size="9.5" font-family="Liberation Sans" font-weight="bold" stroke="#000" stroke-width="0.22" text-anchor="middle">respiratory capacity</text>
<line x1="590.6" y1="622.9" x2="590.6" y2="747.6" stroke="#000" stroke-width="1.2"/>
<line x1="590" y1="747" x2="673.3" y2="747" stroke="#000" stroke-width="1.2"/>
<line x1="587.6" y1="747" x2="590.6" y2="747" stroke="#000" stroke-width="1.1"/>
<text transform="translate(586,750.4) scale(1.0,1)" font-size="9.7" font-family="Liberation Sans" font-weight="bold" text-anchor="end">0.0</text>
<line x1="587.6" y1="716.12" x2="590.6" y2="716.12" stroke="#000" stroke-width="1.1"/>
<text transform="translate(586,719.52) scale(1.0,1)" font-size="9.7" font-family="Liberation Sans" font-weight="bold" text-anchor="end">0.1</text>
<line x1="587.6" y1="685.25" x2="590.6" y2="685.25" stroke="#000" stroke-width="1.1"/>
<text transform="translate(586,688.65) scale(1.0,1)" font-size="9.7" font-family="Liberation Sans" font-weight="bold" text-anchor="end">0.2</text>
<line x1="587.6" y1="654.38" x2="590.6" y2="654.38" stroke="#000" stroke-width="1.1"/>
<text transform="translate(586,657.77) scale(1.0,1)" font-size="9.7" font-family="Liberation Sans" font-weight="bold" text-anchor="end">0.3</text>
<line x1="587.6" y1="623.5" x2="590.6" y2="623.5" stroke="#000" stroke-width="1.1"/>
<text transform="translate(586,626.9) scale(1.0,1)" font-size="9.7" font-family="Liberation Sans" font-weight="bold" text-anchor="end">0.4</text>
<line x1="611.6" y1="747" x2="611.6" y2="749.4" stroke="#000" stroke-width="1.1"/>
<line x1="653" y1="747" x2="653" y2="749.4" stroke="#000" stroke-width="1.1"/>
<text x="611.6" y="761.2" font-size="9.6" font-family="Liberation Sans" font-weight="bold" stroke="#000" stroke-width="0.22" text-anchor="middle" fill="#000" >Ctrl</text>
<text x="653" y="761.2" font-size="9.6" font-family="Liberation Sans" font-weight="bold" stroke="#000" stroke-width="0.22" text-anchor="middle" fill="#000" >PE</text>
<text x="576.7" y="608.5" font-size="11.7" font-family="Liberation Sans" font-weight="bold" stroke="#000" stroke-width="0.22" text-anchor="start" fill="#000" >Reserve capacity</text>
<circle cx="611.6" cy="656" r="2.45" fill="none" stroke="#4a4a4a" stroke-width="1.05"/>
<circle cx="604" cy="677.3" r="2.45" fill="none" stroke="#4a4a4a" stroke-width="1.05"/>
<circle cx="611.6" cy="674.4" r="2.45" fill="none" stroke="#4a4a4a" stroke-width="1.05"/>
<circle cx="619.5" cy="682.2" r="2.45" fill="none" stroke="#4a4a4a" stroke-width="1.05"/>
<circle cx="608" cy="690.2" r="2.45" fill="none" stroke="#4a4a4a" stroke-width="1.05"/>
<circle cx="611.6" cy="682.9" r="2.45" fill="none" stroke="#4a4a4a" stroke-width="1.05"/>
<circle cx="619.5" cy="695.6" r="2.45" fill="none" stroke="#4a4a4a" stroke-width="1.05"/>
<circle cx="615.5" cy="696.8" r="2.45" fill="none" stroke="#4a4a4a" stroke-width="1.05"/>
<circle cx="608" cy="703" r="2.45" fill="none" stroke="#4a4a4a" stroke-width="1.05"/>
<rect x="650.65" y="672.45" width="4.7" height="4.7" fill="none" stroke="#4a4a4a" stroke-width="1.05"/>
<rect x="640.35" y="694.45" width="4.7" height="4.7" fill="none" stroke="#4a4a4a" stroke-width="1.05"/>
<rect x="654.55" y="698.15" width="4.7" height="4.7" fill="none" stroke="#4a4a4a" stroke-width="1.05"/>
<rect x="646.45" y="700.65" width="4.7" height="4.7" fill="none" stroke="#4a4a4a" stroke-width="1.05"/>
<rect x="650.65" y="700.65" width="4.7" height="4.7" fill="none" stroke="#4a4a4a" stroke-width="1.05"/>
<rect x="640.35" y="705.45" width="4.7" height="4.7" fill="none" stroke="#4a4a4a" stroke-width="1.05"/>
<rect x="660.65" y="704.55" width="4.7" height="4.7" fill="none" stroke="#4a4a4a" stroke-width="1.05"/>
<rect x="654.55" y="706.95" width="4.7" height="4.7" fill="none" stroke="#4a4a4a" stroke-width="1.05"/>
<rect x="646.45" y="711.15" width="4.7" height="4.7" fill="none" stroke="#4a4a4a" stroke-width="1.05"/>
<line x1="611.6" y1="670.2" x2="611.6" y2="698.1" stroke="#000" stroke-width="1.2"/>
<line x1="598.1" y1="684.1" x2="625.1" y2="684.1" stroke="#000" stroke-width="1.2"/>
<line x1="604.6" y1="670.2" x2="618.6" y2="670.2" stroke="#000" stroke-width="1.2"/>
<line x1="604.6" y1="698.1" x2="618.6" y2="698.1" stroke="#000" stroke-width="1.2"/>
<line x1="653" y1="690.2" x2="653" y2="712.7" stroke="#000" stroke-width="1.2"/>
<line x1="639.5" y1="701.2" x2="666.5" y2="701.2" stroke="#000" stroke-width="1.2"/>
<line x1="646" y1="690.2" x2="660" y2="690.2" stroke="#000" stroke-width="1.2"/>
<line x1="646" y1="712.7" x2="660" y2="712.7" stroke="#000" stroke-width="1.2"/>
<path d="M649.5 659.2L649.5 656.3M649.5 659.2L652.26 658.3M649.5 659.2L651.2 661.55M649.5 659.2L647.8 661.55M649.5 659.2L646.74 658.3" stroke="#000" stroke-width="1.15" fill="none"/>
<path d="M656.5 659.2L656.5 656.3M656.5 659.2L659.26 658.3M656.5 659.2L658.2 661.55M656.5 659.2L654.8 661.55M656.5 659.2L653.74 658.3" stroke="#000" stroke-width="1.15" fill="none"/>
<text transform="translate(556,685.75) rotate(-90)" font-size="9.5" font-family="Liberation Sans" font-weight="bold" stroke="#000" stroke-width="0.22" text-anchor="middle">Proportion of maximum</text>
<text transform="translate(568.6,685.75) rotate(-90)" font-size="9.5" font-family="Liberation Sans" font-weight="bold" stroke="#000" stroke-width="0.22" text-anchor="middle">respiratory capacity</text>
<rect x="51" y="652.3" width="64" height="15" fill="#e3e3e3"/>
<rect x="118" y="652.3" width="61" height="15" fill="#e3e3e3"/>
<rect x="205.2" y="652.3" width="63.5" height="15" fill="#eeeeee"/>
<rect x="271.1" y="652.3" width="61.9" height="15" fill="#ebebeb"/>
<rect x="51" y="671" width="64" height="15.5" fill="#e2e2e2"/>
<rect x="118" y="671" width="61" height="15.5" fill="#e2e2e2"/>
<rect x="205.2" y="671" width="63.5" height="15.5" fill="#e6e6e6"/>
<rect x="271.1" y="671" width="61.9" height="15.5" fill="#e6e6e6"/>
<rect x="51" y="690" width="64" height="20.3" fill="#e1e1e1"/>
<rect x="118" y="690" width="61" height="20.3" fill="#e1e1e1"/>
<rect x="205.2" y="690" width="63.5" height="20.3" fill="#e4e4e4"/>
<rect x="271.1" y="690" width="61.9" height="20.3" fill="#e4e4e4"/>
<rect x="51" y="713.4" width="64" height="16.3" fill="#e2e2e2"/>
<rect x="118" y="713.4" width="61" height="16.3" fill="#e2e2e2"/>
<rect x="205.2" y="713.4" width="63.5" height="16.3" fill="#e9e9e9"/>
<rect x="271.1" y="713.4" width="61.9" height="16.3" fill="#e9e9e9"/>
<rect x="51" y="732.5" width="64" height="14.7" fill="#e3e3e3"/>
<rect x="118" y="732.5" width="61" height="14.7" fill="#e3e3e3"/>
<rect x="205.2" y="732.5" width="63.5" height="14.7" fill="#e7e7e7"/>
<rect x="271.1" y="732.5" width="61.9" height="14.7" fill="#e8e8e8"/>
<rect x="51" y="749.3" width="64" height="17.1" fill="#e3e3e3"/>
<rect x="118" y="749.3" width="61" height="17.1" fill="#e3e3e3"/>
<rect x="205.2" y="749.3" width="63.5" height="17.1" fill="#e6e6e6"/>
<rect x="271.1" y="749.3" width="61.9" height="17.1" fill="#e6e6e6"/>
<g filter="url(#bl)">
<path d="M54.4 661.1Q63.25 663.7 72.1 661.1" fill="none" stroke="#363636" stroke-width="2.4" stroke-linecap="round"/>
<path d="M75.9 661.1Q84.5 663.7 93.1 661.1" fill="none" stroke="#363636" stroke-width="2.4" stroke-linecap="round"/>
<path d="M96.35 661.1Q104.9 663.7 113.45 661.1" fill="none" stroke="#3f3f3f" stroke-width="2.3" stroke-linecap="round"/>
<path d="M120.6 659.9Q127.65 662.5 134.7 659.9" fill="none" stroke="#2e2e2e" stroke-width="2.8" stroke-linecap="round"/>
<path d="M138.85 660.3Q146.5 662.9 154.15 660.3" fill="none" stroke="#252525" stroke-width="3.3" stroke-linecap="round"/>
<path d="M158.2 660.6Q166.75 663.2 175.3 660.6" fill="none" stroke="#292929" stroke-width="3.0" stroke-linecap="round"/>
<path d="M208.35 658.55Q216 659.05 223.65 658.55" fill="none" stroke="#444444" stroke-width="2.3" stroke-linecap="round"/>
<path d="M228.9 660.55Q236.5 661.05 244.1 660.55" fill="none" stroke="#555555" stroke-width="2.4" stroke-linecap="round"/>
<path d="M248.85 660.55Q257.25 661.05 265.65 660.55" fill="none" stroke="#555555" stroke-width="2.3" stroke-linecap="round"/>
<path d="M274.45 662.35Q281.25 662.85 288.05 662.35" fill="none" stroke="#636363" stroke-width="2.5" stroke-linecap="round"/>
<path d="M294.45 662.05Q301.75 662.55 309.05 662.05" fill="none" stroke="#555555" stroke-width="2.5" stroke-linecap="round"/>
<path d="M315.25 662.35Q322.75 662.85 330.25 662.35" fill="none" stroke="#2e2e2e" stroke-width="3.1" stroke-linecap="round"/>
<path d="M54.9 679.45Q63.25 679.95 71.6 679.45" fill="none" stroke="#2e2e2e" stroke-width="3.4" stroke-linecap="round"/>
<path d="M76.4 679.45Q84.5 679.95 92.6 679.45" fill="none" stroke="#2e2e2e" stroke-width="3.4" stroke-linecap="round"/>
<path d="M96.95 679.45Q104.9 679.95 112.85 679.45" fill="none" stroke="#292929" stroke-width="3.5" stroke-linecap="round"/>
<path d="M120.9 679.25Q127.65 679.75 134.4 679.25" fill="none" stroke="#2e2e2e" stroke-width="3.4" stroke-linecap="round"/>
<path d="M139.05 679.25Q146.5 679.75 153.95 679.25" fill="none" stroke="#202020" stroke-width="3.7" stroke-linecap="round"/>
<path d="M158.35 679.25Q166.75 679.75 175.15 679.25" fill="none" stroke="#363636" stroke-width="3.3" stroke-linecap="round"/>
<path d="M209 678.55Q216 679.05 223 678.55" fill="none" stroke="#171717" stroke-width="3.6" stroke-linecap="round"/>
<path d="M229.85 678.55Q236.5 679.05 243.15 678.55" fill="none" stroke="#0c0c0c" stroke-width="4.3" stroke-linecap="round"/>
<path d="M249.75 678.55Q257.25 679.05 264.75 678.55" fill="none" stroke="#111111" stroke-width="4.1" stroke-linecap="round"/>
<path d="M275.05 678.55Q281.25 679.05 287.45 678.55" fill="none" stroke="#131313" stroke-width="3.7" stroke-linecap="round"/>
<path d="M295.5 678.55Q301.75 679.05 308 678.55" fill="none" stroke="#0c0c0c" stroke-width="4.6" stroke-linecap="round"/>
<path d="M315.55 678.55Q322.75 679.05 329.95 678.55" fill="none" stroke="#171717" stroke-width="3.7" stroke-linecap="round"/>
<path d="M55.1 701.05Q63.25 701.55 71.4 701.05" fill="none" stroke="#2e2e2e" stroke-width="3.8" stroke-linecap="round"/>
<path d="M76.7 701.05Q84.5 701.55 92.3 701.05" fill="none" stroke="#292929" stroke-width="4.0" stroke-linecap="round"/>
<path d="M97.2 701.05Q104.9 701.55 112.6 701.05" fill="none" stroke="#292929" stroke-width="4.0" stroke-linecap="round"/>
<path d="M122 699.15Q127.65 699.65 133.3 699.15" fill="none" stroke="#0a0a0a" stroke-width="5.6" stroke-linecap="round"/>
<path d="M140.2 699.95Q146.5 700.45 152.8 699.95" fill="none" stroke="#0a0a0a" stroke-width="6.0" stroke-linecap="round"/>
<path d="M159.5 699.95Q166.75 700.45 174 699.95" fill="none" stroke="#0a0a0a" stroke-width="5.6" stroke-linecap="round"/>
<path d="M209.5 698.95Q216 699.45 222.5 698.95" fill="none" stroke="#252525" stroke-width="4.6" stroke-linecap="round"/>
<path d="M229.75 698.95Q236.5 699.45 243.25 698.95" fill="none" stroke="#2e2e2e" stroke-width="4.1" stroke-linecap="round"/>
<path d="M250 698.95Q257.25 699.45 264.5 698.95" fill="none" stroke="#252525" stroke-width="4.6" stroke-linecap="round"/>
<path d="M275.25 700.85Q281.25 701.35 287.25 700.85" fill="none" stroke="#2e2e2e" stroke-width="4.1" stroke-linecap="round"/>
<path d="M295.25 700.85Q301.75 701.35 308.25 700.85" fill="none" stroke="#323232" stroke-width="4.1" stroke-linecap="round"/>
<path d="M315.75 700.85Q322.75 701.35 329.75 700.85" fill="none" stroke="#3b3b3b" stroke-width="4.1" stroke-linecap="round"/>
<path d="M54.8 722.75Q63.25 723.25 71.7 722.75" fill="none" stroke="#3b3b3b" stroke-width="3.2" stroke-linecap="round"/>
<path d="M76.5 722.75Q84.5 723.25 92.5 722.75" fill="none" stroke="#292929" stroke-width="3.6" stroke-linecap="round"/>
<path d="M96.8 722.75Q104.9 723.25 113 722.75" fill="none" stroke="#444444" stroke-width="3.2" stroke-linecap="round"/>
<path d="M122 722.35Q127.65 722.85 133.3 722.35" fill="none" stroke="#0a0a0a" stroke-width="5.6" stroke-linecap="round"/>
<path d="M140.1 722.35Q146.5 722.85 152.9 722.35" fill="none" stroke="#0a0a0a" stroke-width="5.8" stroke-linecap="round"/>
<path d="M159.6 722.35Q166.75 722.85 173.9 722.35" fill="none" stroke="#0a0a0a" stroke-width="5.8" stroke-linecap="round"/>
<path d="M208.7 721.65Q216 722.15 223.3 721.65" fill="none" stroke="#515151" stroke-width="3.0" stroke-linecap="round"/>
<path d="M229.1 721.65Q236.5 722.15 243.9 721.65" fill="none" stroke="#5e5e5e" stroke-width="2.8" stroke-linecap="round"/>
<path d="M249 721.65Q257.25 722.15 265.5 721.65" fill="none" stroke="#797979" stroke-width="2.6" stroke-linecap="round"/>
<path d="M274.5 721.65Q281.25 722.15 288 721.65" fill="none" stroke="#7d7d7d" stroke-width="2.6" stroke-linecap="round"/>
<path d="M294.8 721.65Q301.75 722.15 308.7 721.65" fill="none" stroke="#515151" stroke-width="3.2" stroke-linecap="round"/>
<path d="M316 721.65Q322.75 722.15 329.5 721.65" fill="none" stroke="#171717" stroke-width="4.6" stroke-linecap="round"/>
<path d="M54.5 739.75Q63.25 740.25 72 739.75" fill="none" stroke="#4d4d4d" stroke-width="2.6" stroke-linecap="round"/>
<path d="M76.15 739.75Q84.5 740.25 92.85 739.75" fill="none" stroke="#444444" stroke-width="2.9" stroke-linecap="round"/>
<path d="M96.6 739.75Q104.9 740.25 113.2 739.75" fill="none" stroke="#484848" stroke-width="2.8" stroke-linecap="round"/>
<path d="M120.7 739.35Q127.65 739.85 134.6 739.35" fill="none" stroke="#363636" stroke-width="3.0" stroke-linecap="round"/>
<path d="M138.95 739.35Q146.5 739.85 154.05 739.35" fill="none" stroke="#292929" stroke-width="3.5" stroke-linecap="round"/>
<path d="M158.2 739.35Q166.75 739.85 175.3 739.35" fill="none" stroke="#484848" stroke-width="3.0" stroke-linecap="round"/>
<path d="M208.7 738.85Q216 739.35 223.3 738.85" fill="none" stroke="#4d4d4d" stroke-width="3.0" stroke-linecap="round"/>
<path d="M229 738.85Q236.5 739.35 244 738.85" fill="none" stroke="#6e6e6e" stroke-width="2.6" stroke-linecap="round"/>
<path d="M249.1 738.85Q257.25 739.35 265.4 738.85" fill="none" stroke="#5a5a5a" stroke-width="2.8" stroke-linecap="round"/>
<path d="M274.6 738.85Q281.25 739.35 287.9 738.85" fill="none" stroke="#4d4d4d" stroke-width="2.8" stroke-linecap="round"/>
<path d="M295 738.85Q301.75 739.35 308.5 738.85" fill="none" stroke="#202020" stroke-width="3.6" stroke-linecap="round"/>
<path d="M315 738.85Q322.75 739.35 330.5 738.85" fill="none" stroke="#636363" stroke-width="2.6" stroke-linecap="round"/>
<path d="M54.95 758.55Q63.25 759.05 71.55 758.55" fill="none" stroke="#292929" stroke-width="3.5" stroke-linecap="round"/>
<path d="M76.5 758.55Q84.5 759.05 92.5 758.55" fill="none" stroke="#252525" stroke-width="3.6" stroke-linecap="round"/>
<path d="M96.9 758.55Q104.9 759.05 112.9 758.55" fill="none" stroke="#323232" stroke-width="3.4" stroke-linecap="round"/>
<path d="M121 758.55Q127.65 759.05 134.3 758.55" fill="none" stroke="#292929" stroke-width="3.6" stroke-linecap="round"/>
<path d="M139 758.55Q146.5 759.05 154 758.55" fill="none" stroke="#292929" stroke-width="3.6" stroke-linecap="round"/>
<path d="M158.5 758.55Q166.75 759.05 175 758.55" fill="none" stroke="#292929" stroke-width="3.6" stroke-linecap="round"/>
<path d="M209.5 755.35Q216 755.85 222.5 755.35" fill="none" stroke="#0e0e0e" stroke-width="4.6" stroke-linecap="round"/>
<path d="M229.9 755.35Q236.5 755.85 243.1 755.35" fill="none" stroke="#111111" stroke-width="4.4" stroke-linecap="round"/>
<path d="M250 755.35Q257.25 755.85 264.5 755.35" fill="none" stroke="#0e0e0e" stroke-width="4.6" stroke-linecap="round"/>
<path d="M275.5 755.35Q281.25 755.85 287 755.35" fill="none" stroke="#252525" stroke-width="4.6" stroke-linecap="round"/>
<path d="M295.2 755.35Q301.75 755.85 308.3 755.35" fill="none" stroke="#363636" stroke-width="4.0" stroke-linecap="round"/>
<path d="M316 755.35Q322.75 755.85 329.5 755.35" fill="none" stroke="#111111" stroke-width="4.6" stroke-linecap="round"/>
</g>
<text x="114.2" y="631.4" font-size="10.5" font-family="Liberation Sans" font-weight="bold" stroke="#000" stroke-width="0.22" text-anchor="middle" fill="#000" >Term</text>
<text x="269.5" y="631.2" font-size="10.6" font-family="Liberation Sans" font-weight="bold" stroke="#000" stroke-width="0.22" text-anchor="middle" fill="#000" >Pre-term</text>
<text x="84.2" y="643.6" font-size="9.6" font-family="Liberation Sans" text-anchor="middle" fill="#111" stroke="#111" stroke-width="0.18">Ctrl</text>
<text x="148.2" y="643.6" font-size="9.6" font-family="Liberation Sans" text-anchor="middle" fill="#111" stroke="#111" stroke-width="0.18">PE</text>
<text x="238" y="643.6" font-size="9.6" font-family="Liberation Sans" text-anchor="middle" fill="#111" stroke="#111" stroke-width="0.18">Ctrl</text>
<text x="301.6" y="643.6" font-size="9.6" font-family="Liberation Sans" text-anchor="middle" fill="#111" stroke="#111" stroke-width="0.18">PE</text>
<line x1="63.8" y1="647.7" x2="105.8" y2="647.7" stroke="#222" stroke-width="1.4"/>
<line x1="127" y1="647.7" x2="169.3" y2="647.7" stroke="#222" stroke-width="1.4"/>
<line x1="217.7" y1="647.7" x2="259.2" y2="647.7" stroke="#222" stroke-width="1.4"/>
<line x1="280.5" y1="647.7" x2="322.8" y2="647.7" stroke="#222" stroke-width="1.4"/>
<text x="24.6" y="647.1" font-size="9.3" font-family="Liberation Sans" font-weight="bold" stroke="#000" stroke-width="0.22" text-anchor="start" fill="#000" >kDa</text>
<text transform="translate(42,664.6) scale(0.84,1)" font-size="11.2" font-family="Liberation Sans" font-weight="bold" text-anchor="end">53</text>
<text transform="translate(42,682.3) scale(0.84,1)" font-size="11.2" font-family="Liberation Sans" font-weight="bold" text-anchor="end">26</text>
<text transform="translate(42,703.1) scale(0.84,1)" font-size="11.2" font-family="Liberation Sans" font-weight="bold" text-anchor="end">50</text>
<text transform="translate(42,723.5) scale(0.84,1)" font-size="11.2" font-family="Liberation Sans" font-weight="bold" text-anchor="end">28</text>
<text transform="translate(42,743.1) scale(0.84,1)" font-size="11.2" font-family="Liberation Sans" font-weight="bold" text-anchor="end">22</text>
<text transform="translate(42,761.1) scale(0.84,1)" font-size="11.2" font-family="Liberation Sans" font-weight="bold" text-anchor="end">37</text>
<text x="339" y="664.9" font-size="9.8" font-family="Liberation Sans" font-weight="bold" stroke="#000" stroke-width="0.22" text-anchor="start" fill="#000" >CV</text>
<text x="339" y="682.8" font-size="9.8" font-family="Liberation Sans" font-weight="bold" stroke="#000" stroke-width="0.22" text-anchor="start" fill="#000" >CIV</text>
<text x="339" y="704.9" font-size="9.8" font-family="Liberation Sans" font-weight="bold" stroke="#000" stroke-width="0.22" text-anchor="start" fill="#000" >CIII</text>
<text x="339" y="726.2" font-size="9.8" font-family="Liberation Sans" font-weight="bold" stroke="#000" stroke-width="0.22" text-anchor="start" fill="#000" >CII</text>
<text x="339" y="743.8" font-size="9.8" font-family="Liberation Sans" font-weight="bold" stroke="#000" stroke-width="0.22" text-anchor="start" fill="#000" >CI</text>
<text x="339" y="760.8" font-size="9.8" font-family="Liberation Sans" font-weight="bold" stroke="#000" stroke-width="0.22" text-anchor="start" fill="#000" >GAPDH</text>
</svg></body></html>
